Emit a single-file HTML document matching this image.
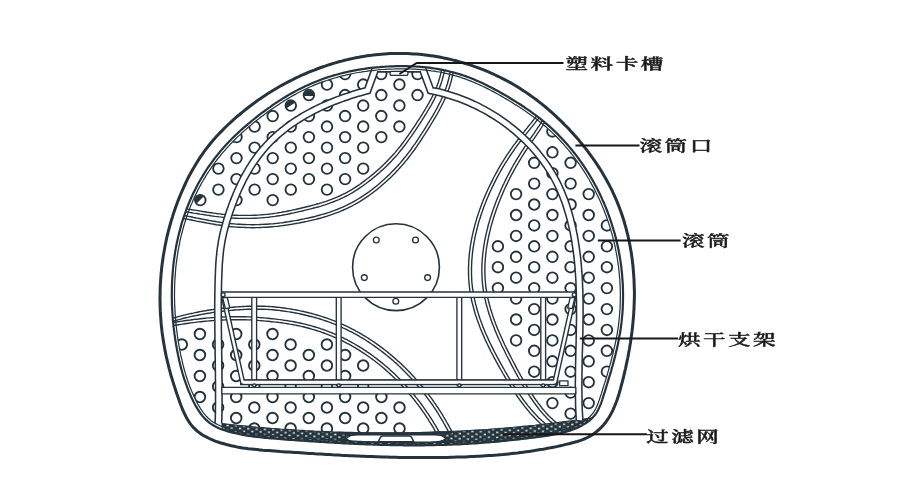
<!DOCTYPE html>
<html lang="zh"><head><meta charset="utf-8"><title>烘干支架示意图</title>
<style>html,body{margin:0;padding:0;background:#fff;}body{width:900px;height:500px;overflow:hidden;}</style></head>
<body>
<svg width="900" height="500" viewBox="0 0 900 500" style="display:block">
<rect width="900" height="500" fill="#fff"/>
<defs>
<clipPath id="cring"><path d="M396.1 66.2 L398.8 66.2 L401.6 66.1 L404.3 66.1 L407.1 66.2 L409.8 66.3 L412.6 66.4 L415.3 66.5 L418.1 66.7 L420.8 66.9 L423.5 67.1 L426.3 67.4 L429.0 67.7 L431.7 68.1 L434.4 68.5 L437.1 68.9 L439.8 69.4 L442.4 69.9 L445.1 70.4 L447.8 71.0 L450.4 71.7 L453.0 72.3 L455.7 73.1 L458.3 73.8 L460.9 74.6 L463.5 75.5 L466.0 76.4 L468.6 77.3 L471.1 78.3 L473.7 79.3 L476.2 80.4 L478.7 81.5 L481.2 82.6 L483.7 83.8 L486.2 85.0 L488.6 86.2 L491.1 87.4 L493.5 88.7 L495.9 90.0 L498.4 91.3 L500.8 92.7 L503.1 94.0 L505.5 95.4 L507.9 96.8 L510.2 98.2 L512.6 99.7 L514.9 101.1 L517.2 102.6 L519.5 104.0 L521.8 105.5 L524.1 107.0 L526.3 108.6 L528.6 110.1 L530.8 111.7 L533.0 113.3 L535.2 114.9 L537.4 116.5 L539.6 118.2 L541.7 119.9 L543.8 121.6 L545.9 123.3 L548.0 125.1 L550.0 126.9 L552.0 128.7 L554.0 130.6 L556.0 132.5 L558.0 134.4 L559.9 136.4 L561.8 138.4 L563.7 140.4 L565.5 142.4 L567.3 144.5 L569.1 146.6 L570.9 148.7 L572.6 150.8 L574.3 153.0 L576.0 155.2 L577.7 157.4 L579.3 159.6 L580.9 161.8 L582.5 164.1 L584.0 166.4 L585.5 168.6 L587.0 171.0 L588.5 173.3 L589.9 175.6 L591.3 178.0 L592.7 180.4 L594.0 182.7 L595.3 185.2 L596.6 187.6 L597.8 190.0 L599.1 192.5 L600.3 194.9 L601.4 197.4 L602.5 199.9 L603.7 202.4 L604.7 204.9 L605.8 207.4 L606.8 210.0 L607.8 212.5 L608.7 215.1 L609.6 217.7 L610.5 220.3 L611.4 222.9 L612.2 225.5 L613.0 228.1 L613.8 230.7 L614.6 233.3 L615.3 236.0 L616.0 238.6 L616.6 241.3 L617.2 243.9 L617.8 246.6 L618.4 249.3 L618.9 252.0 L619.4 254.7 L619.9 257.4 L620.3 260.1 L620.7 262.8 L621.1 265.5 L621.4 268.2 L621.7 270.9 L622.0 273.6 L622.2 276.3 L622.4 279.1 L622.6 281.8 L622.8 284.5 L622.9 287.2 L623.0 290.0 L623.0 292.7 L623.1 295.4 L623.0 298.2 L623.0 300.9 L622.9 303.6 L622.8 306.4 L622.7 309.1 L622.5 311.8 L622.3 314.6 L622.0 317.3 L621.8 320.0 L621.5 322.7 L621.1 325.4 L620.8 328.1 L620.4 330.8 L619.9 333.6 L619.4 336.2 L618.9 338.9 L618.4 341.6 L617.9 344.3 L617.3 347.0 L616.7 349.7 L616.0 352.4 L615.4 355.0 L614.7 357.7 L614.0 360.4 L613.3 363.0 L612.6 365.7 L611.8 368.3 L611.1 371.0 L610.3 373.6 L609.5 376.3 L608.7 378.9 L607.9 381.6 L607.1 384.2 L606.3 386.8 L605.5 389.5 L604.7 392.1 L603.8 394.7 L603.0 397.4 L602.2 400.0 L601.3 402.6 L600.3 405.1 L599.2 407.6 L598.1 410.0 L596.8 412.3 L595.3 414.5 L593.6 416.6 L591.8 418.5 L589.7 420.3 L587.5 422.0 L585.2 423.5 L582.9 424.9 L580.5 426.2 L578.0 427.4 L575.6 428.5 L573.0 429.5 L570.5 430.4 L567.9 431.3 L565.3 432.0 L562.6 432.7 L559.9 433.4 L557.2 433.9 L554.5 434.4 L551.8 434.9 L549.1 435.4 L546.3 435.8 L543.6 436.2 L540.8 436.6 L538.1 436.9 L535.4 437.3 L532.6 437.7 L529.9 438.0 L527.1 438.3 L524.4 438.7 L521.7 439.0 L518.9 439.3 L516.2 439.6 L513.5 439.9 L510.7 440.2 L508.0 440.5 L505.3 440.8 L502.6 441.0 L499.8 441.3 L497.1 441.6 L494.4 441.8 L491.7 442.0 L488.9 442.3 L486.2 442.5 L483.5 442.7 L480.8 442.9 L478.1 443.1 L475.3 443.3 L472.6 443.5 L469.9 443.7 L467.2 443.8 L464.5 444.0 L461.7 444.1 L459.0 444.3 L456.3 444.4 L453.6 444.5 L450.9 444.6 L448.1 444.7 L445.4 444.8 L442.7 444.9 L439.9 445.0 L437.2 445.0 L434.5 445.1 L431.8 445.2 L429.0 445.2 L426.3 445.2 L423.6 445.3 L420.8 445.3 L418.1 445.3 L415.4 445.3 L412.6 445.3 L409.9 445.3 L407.2 445.3 L404.4 445.3 L401.7 445.2 L398.9 445.2 L396.2 445.2 L393.5 445.1 L390.7 445.1 L388.0 445.0 L385.2 444.9 L382.5 444.9 L379.8 444.8 L377.0 444.7 L374.3 444.6 L371.5 444.5 L368.8 444.4 L366.1 444.3 L363.3 444.2 L360.6 444.1 L357.8 444.0 L355.1 443.8 L352.4 443.7 L349.6 443.6 L346.9 443.4 L344.1 443.3 L341.4 443.2 L338.7 443.0 L335.9 442.8 L333.2 442.7 L330.4 442.5 L327.7 442.4 L325.0 442.2 L322.2 442.0 L319.5 441.9 L316.8 441.7 L314.0 441.5 L311.3 441.3 L308.5 441.1 L305.8 440.9 L303.1 440.7 L300.3 440.6 L297.6 440.4 L294.9 440.2 L292.1 440.0 L289.4 439.8 L286.7 439.6 L284.0 439.3 L281.2 439.1 L278.5 438.9 L275.8 438.7 L273.0 438.5 L270.3 438.3 L267.6 438.0 L264.9 437.8 L262.2 437.5 L259.4 437.2 L256.7 436.9 L254.0 436.6 L251.3 436.2 L248.6 435.8 L245.9 435.4 L243.2 434.9 L240.5 434.4 L237.9 433.8 L235.2 433.2 L232.5 432.6 L229.8 431.9 L227.2 431.1 L224.5 430.3 L221.9 429.4 L219.4 428.4 L216.9 427.2 L214.5 426.0 L212.2 424.6 L209.9 423.1 L207.8 421.4 L205.9 419.6 L204.0 417.7 L202.2 415.6 L200.5 413.5 L199.0 411.2 L197.5 408.9 L196.0 406.4 L194.7 404.0 L193.4 401.5 L192.2 399.0 L191.0 396.4 L189.9 393.9 L188.8 391.4 L187.8 388.8 L186.8 386.2 L185.9 383.7 L185.0 381.1 L184.1 378.5 L183.3 375.9 L182.5 373.3 L181.8 370.7 L181.1 368.1 L180.4 365.5 L179.8 362.8 L179.1 360.2 L178.6 357.6 L178.0 354.9 L177.5 352.2 L177.0 349.6 L176.5 346.9 L176.0 344.2 L175.6 341.5 L175.2 338.8 L174.8 336.1 L174.4 333.4 L174.1 330.7 L173.7 327.9 L173.4 325.2 L173.2 322.5 L172.9 319.7 L172.7 317.0 L172.5 314.3 L172.3 311.5 L172.2 308.8 L172.0 306.0 L171.9 303.3 L171.9 300.5 L171.8 297.7 L171.8 295.0 L171.8 292.2 L171.9 289.5 L171.9 286.7 L172.0 284.0 L172.1 281.2 L172.3 278.4 L172.5 275.7 L172.7 273.0 L172.9 270.2 L173.2 267.5 L173.4 264.7 L173.8 262.0 L174.1 259.3 L174.5 256.6 L174.9 253.8 L175.3 251.1 L175.8 248.4 L176.3 245.7 L176.8 243.0 L177.4 240.4 L178.0 237.7 L178.6 235.0 L179.3 232.4 L180.0 229.7 L180.7 227.1 L181.4 224.4 L182.2 221.8 L183.0 219.2 L183.9 216.6 L184.8 214.0 L185.7 211.5 L186.6 208.9 L187.6 206.4 L188.6 203.8 L189.7 201.3 L190.8 198.8 L191.9 196.3 L193.0 193.8 L194.2 191.4 L195.5 188.9 L196.7 186.5 L198.0 184.1 L199.3 181.7 L200.7 179.3 L202.1 177.0 L203.5 174.6 L204.9 172.3 L206.4 170.0 L207.9 167.7 L209.5 165.5 L211.0 163.3 L212.6 161.1 L214.3 158.9 L216.0 156.7 L217.7 154.6 L219.4 152.4 L221.1 150.4 L222.9 148.3 L224.8 146.3 L226.6 144.2 L228.5 142.2 L230.4 140.3 L232.3 138.3 L234.3 136.4 L236.3 134.5 L238.3 132.6 L240.3 130.7 L242.3 128.9 L244.4 127.1 L246.5 125.3 L248.6 123.5 L250.7 121.8 L252.8 120.0 L255.0 118.3 L257.1 116.6 L259.3 114.9 L261.5 113.2 L263.7 111.6 L265.9 110.0 L268.1 108.3 L270.4 106.8 L272.6 105.2 L274.9 103.6 L277.2 102.1 L279.5 100.6 L281.8 99.2 L284.1 97.7 L286.5 96.3 L288.8 94.9 L291.2 93.5 L293.6 92.2 L296.0 90.9 L298.4 89.6 L300.8 88.4 L303.2 87.2 L305.7 86.0 L308.2 84.9 L310.7 83.8 L313.2 82.7 L315.7 81.7 L318.2 80.7 L320.8 79.7 L323.3 78.8 L325.9 77.9 L328.5 77.0 L331.1 76.2 L333.7 75.4 L336.4 74.7 L339.0 74.0 L341.7 73.3 L344.3 72.6 L347.0 72.0 L349.7 71.4 L352.3 70.9 L355.0 70.4 L357.7 69.9 L360.5 69.4 L363.2 69.0 L365.9 68.6 L368.6 68.2 L371.4 67.9 L374.1 67.6 L376.8 67.3 L379.6 67.1 L382.3 66.8 L385.1 66.7 L387.8 66.5 L390.6 66.4 L393.3 66.3 Z"/></clipPath>
<clipPath id="cringin"><path d="M396.1 68.9 L398.9 68.9 L401.6 68.8 L404.3 68.8 L407.0 68.9 L409.8 69.0 L412.5 69.1 L415.2 69.2 L417.9 69.4 L420.6 69.6 L423.3 69.8 L426.0 70.1 L428.6 70.4 L431.3 70.8 L434.0 71.1 L436.6 71.6 L439.3 72.0 L441.9 72.5 L444.5 73.1 L447.2 73.7 L449.8 74.3 L452.3 74.9 L454.9 75.7 L457.5 76.4 L460.1 77.2 L462.6 78.1 L465.1 78.9 L467.6 79.9 L470.2 80.8 L472.7 81.8 L475.1 82.9 L477.6 84.0 L480.1 85.1 L482.5 86.2 L485.0 87.4 L487.4 88.6 L489.8 89.8 L492.3 91.1 L494.7 92.4 L497.0 93.7 L499.4 95.0 L501.8 96.4 L504.1 97.7 L506.5 99.1 L508.8 100.5 L511.2 102.0 L513.5 103.4 L515.8 104.9 L518.1 106.3 L520.3 107.8 L522.6 109.3 L524.8 110.8 L527.0 112.3 L529.3 113.9 L531.4 115.5 L533.6 117.1 L535.8 118.7 L537.9 120.3 L540.0 122.0 L542.1 123.7 L544.2 125.4 L546.2 127.1 L548.2 128.9 L550.2 130.7 L552.2 132.6 L554.1 134.4 L556.1 136.3 L558.0 138.3 L559.8 140.2 L561.7 142.2 L563.5 144.2 L565.3 146.3 L567.1 148.3 L568.8 150.4 L570.5 152.5 L572.2 154.7 L573.9 156.8 L575.5 159.0 L577.1 161.2 L578.7 163.4 L580.3 165.6 L581.8 167.9 L583.3 170.1 L584.7 172.4 L586.2 174.7 L587.6 177.0 L589.0 179.3 L590.3 181.7 L591.6 184.1 L592.9 186.4 L594.2 188.8 L595.4 191.2 L596.6 193.7 L597.8 196.1 L599.0 198.5 L600.1 201.0 L601.2 203.5 L602.2 206.0 L603.3 208.5 L604.3 211.0 L605.2 213.5 L606.2 216.0 L607.1 218.6 L608.0 221.1 L608.8 223.7 L609.7 226.3 L610.5 228.9 L611.2 231.5 L612.0 234.1 L612.7 236.7 L613.3 239.3 L614.0 241.9 L614.6 244.5 L615.2 247.2 L615.7 249.8 L616.2 252.5 L616.7 255.1 L617.2 257.8 L617.6 260.5 L618.0 263.1 L618.4 265.8 L618.7 268.5 L619.0 271.2 L619.3 273.9 L619.5 276.6 L619.8 279.3 L619.9 282.0 L620.1 284.6 L620.2 287.3 L620.3 290.0 L620.3 292.7 L620.4 295.4 L620.3 298.1 L620.3 300.8 L620.2 303.5 L620.1 306.2 L620.0 308.9 L619.8 311.6 L619.6 314.3 L619.4 317.0 L619.1 319.7 L618.8 322.4 L618.5 325.1 L618.1 327.8 L617.7 330.4 L617.3 333.1 L616.8 335.8 L616.3 338.4 L615.8 341.1 L615.2 343.8 L614.6 346.4 L614.0 349.1 L613.4 351.7 L612.8 354.4 L612.1 357.0 L611.4 359.7 L610.7 362.3 L610.0 365.0 L609.3 367.6 L608.5 370.2 L607.7 372.9 L607.0 375.5 L606.2 378.1 L605.4 380.8 L604.6 383.4 L603.7 386.0 L602.9 388.7 L602.1 391.3 L601.3 393.9 L600.4 396.5 L599.6 399.1 L598.7 401.6 L597.8 404.1 L596.8 406.5 L595.7 408.7 L594.5 410.9 L593.1 412.9 L591.6 414.8 L589.9 416.5 L588.0 418.2 L585.9 419.8 L583.8 421.2 L581.5 422.6 L579.2 423.8 L576.9 425.0 L574.5 426.0 L572.1 427.0 L569.6 427.9 L567.1 428.7 L564.5 429.4 L562.0 430.1 L559.3 430.7 L556.7 431.3 L554.0 431.8 L551.4 432.3 L548.7 432.7 L545.9 433.1 L543.2 433.5 L540.5 433.9 L537.7 434.3 L535.0 434.6 L532.3 435.0 L529.5 435.3 L526.8 435.7 L524.1 436.0 L521.3 436.3 L518.6 436.6 L515.9 436.9 L513.2 437.2 L510.5 437.5 L507.7 437.8 L505.0 438.1 L502.3 438.4 L499.6 438.6 L496.9 438.9 L494.2 439.1 L491.4 439.4 L488.7 439.6 L486.0 439.8 L483.3 440.0 L480.6 440.2 L477.9 440.4 L475.2 440.6 L472.5 440.8 L469.7 441.0 L467.0 441.1 L464.3 441.3 L461.6 441.4 L458.9 441.6 L456.2 441.7 L453.5 441.8 L450.7 441.9 L448.0 442.0 L445.3 442.1 L442.6 442.2 L439.9 442.3 L437.2 442.3 L434.4 442.4 L431.7 442.5 L429.0 442.5 L426.3 442.5 L423.5 442.6 L420.8 442.6 L418.1 442.6 L415.4 442.6 L412.6 442.6 L409.9 442.6 L407.2 442.6 L404.4 442.6 L401.7 442.5 L399.0 442.5 L396.2 442.5 L393.5 442.4 L390.8 442.4 L388.1 442.3 L385.3 442.2 L382.6 442.2 L379.8 442.1 L377.1 442.0 L374.4 441.9 L371.6 441.8 L368.9 441.7 L366.2 441.6 L363.4 441.5 L360.7 441.4 L358.0 441.3 L355.2 441.1 L352.5 441.0 L349.8 440.9 L347.0 440.7 L344.3 440.6 L341.5 440.5 L338.8 440.3 L336.1 440.2 L333.3 440.0 L330.6 439.8 L327.9 439.7 L325.1 439.5 L322.4 439.3 L319.7 439.2 L316.9 439.0 L314.2 438.8 L311.5 438.6 L308.7 438.4 L306.0 438.2 L303.3 438.1 L300.5 437.9 L297.8 437.7 L295.1 437.5 L292.3 437.3 L289.6 437.1 L286.9 436.9 L284.2 436.7 L281.4 436.5 L278.7 436.2 L276.0 436.0 L273.3 435.8 L270.6 435.6 L267.8 435.4 L265.1 435.1 L262.4 434.8 L259.7 434.6 L257.1 434.2 L254.4 433.9 L251.7 433.5 L249.0 433.2 L246.4 432.7 L243.7 432.3 L241.1 431.8 L238.4 431.2 L235.8 430.6 L233.2 430.0 L230.6 429.3 L228.0 428.5 L225.4 427.7 L222.9 426.8 L220.4 425.9 L218.1 424.8 L215.8 423.6 L213.6 422.4 L211.5 420.9 L209.6 419.4 L207.8 417.7 L206.0 415.9 L204.3 413.9 L202.7 411.9 L201.2 409.7 L199.8 407.4 L198.4 405.1 L197.1 402.7 L195.8 400.3 L194.6 397.8 L193.5 395.3 L192.4 392.8 L191.3 390.3 L190.3 387.8 L189.3 385.3 L188.4 382.8 L187.5 380.2 L186.7 377.7 L185.9 375.1 L185.1 372.6 L184.4 370.0 L183.7 367.4 L183.0 364.8 L182.4 362.2 L181.8 359.6 L181.2 357.0 L180.6 354.4 L180.1 351.7 L179.6 349.1 L179.1 346.4 L178.7 343.8 L178.2 341.1 L177.8 338.4 L177.4 335.7 L177.1 333.0 L176.7 330.3 L176.4 327.6 L176.1 324.9 L175.8 322.2 L175.6 319.5 L175.4 316.8 L175.2 314.1 L175.0 311.4 L174.9 308.6 L174.7 305.9 L174.6 303.2 L174.6 300.4 L174.5 297.7 L174.5 295.0 L174.5 292.2 L174.6 289.5 L174.6 286.8 L174.7 284.1 L174.8 281.3 L175.0 278.6 L175.2 275.9 L175.4 273.2 L175.6 270.5 L175.8 267.7 L176.1 265.0 L176.4 262.3 L176.8 259.6 L177.2 256.9 L177.6 254.3 L178.0 251.6 L178.5 248.9 L179.0 246.2 L179.5 243.6 L180.0 240.9 L180.6 238.3 L181.2 235.6 L181.9 233.0 L182.6 230.4 L183.3 227.8 L184.0 225.2 L184.8 222.6 L185.6 220.0 L186.4 217.5 L187.3 214.9 L188.2 212.4 L189.2 209.9 L190.1 207.3 L191.1 204.8 L192.2 202.4 L193.2 199.9 L194.3 197.4 L195.5 195.0 L196.7 192.6 L197.9 190.1 L199.1 187.8 L200.4 185.4 L201.7 183.0 L203.0 180.7 L204.4 178.4 L205.8 176.1 L207.2 173.8 L208.7 171.5 L210.2 169.3 L211.7 167.0 L213.2 164.8 L214.8 162.7 L216.4 160.5 L218.1 158.4 L219.8 156.3 L221.5 154.2 L223.2 152.1 L225.0 150.1 L226.8 148.1 L228.6 146.1 L230.4 144.1 L232.3 142.2 L234.2 140.2 L236.2 138.3 L238.1 136.4 L240.1 134.6 L242.1 132.7 L244.1 130.9 L246.2 129.1 L248.2 127.3 L250.3 125.6 L252.4 123.8 L254.5 122.1 L256.6 120.4 L258.8 118.7 L260.9 117.0 L263.1 115.4 L265.3 113.8 L267.5 112.1 L269.7 110.5 L271.9 109.0 L274.2 107.4 L276.4 105.9 L278.7 104.4 L280.9 102.9 L283.2 101.4 L285.5 100.0 L287.8 98.6 L290.2 97.2 L292.5 95.9 L294.9 94.6 L297.2 93.3 L299.6 92.0 L302.0 90.8 L304.4 89.6 L306.8 88.5 L309.3 87.3 L311.7 86.2 L314.2 85.2 L316.7 84.2 L319.2 83.2 L321.7 82.2 L324.2 81.3 L326.8 80.5 L329.3 79.6 L331.9 78.8 L334.5 78.0 L337.1 77.3 L339.7 76.6 L342.3 75.9 L344.9 75.3 L347.6 74.6 L350.2 74.1 L352.9 73.5 L355.5 73.0 L358.2 72.5 L360.9 72.1 L363.6 71.6 L366.3 71.3 L369.0 70.9 L371.7 70.6 L374.4 70.3 L377.1 70.0 L379.8 69.7 L382.5 69.5 L385.2 69.3 L388.0 69.2 L390.7 69.1 L393.4 69.0 Z"/></clipPath>
<clipPath id="ctl" clip-path="url(#cringin)"><path d="M174.7 207.2 L176.8 207.5 L179.0 207.8 L181.2 208.1 L183.4 208.4 L185.5 208.7 L187.7 209.1 L189.9 209.4 L192.0 209.8 L194.2 210.1 L196.3 210.4 L198.5 210.8 L200.6 211.1 L202.8 211.5 L204.9 211.8 L207.1 212.2 L209.2 212.5 L211.4 212.8 L213.5 213.1 L215.6 213.4 L217.7 213.7 L219.9 213.9 L222.0 214.2 L224.1 214.4 L226.2 214.6 L228.3 214.8 L230.4 214.9 L232.5 215.1 L234.6 215.2 L236.8 215.3 L238.9 215.4 L241.0 215.4 L243.1 215.4 L245.2 215.4 L247.3 215.4 L249.4 215.4 L251.5 215.4 L253.6 215.3 L255.7 215.2 L257.8 215.1 L259.9 214.9 L262.0 214.8 L264.1 214.6 L266.2 214.4 L268.3 214.2 L270.4 213.9 L272.5 213.7 L274.6 213.4 L276.6 213.1 L278.7 212.7 L280.8 212.4 L282.9 212.0 L285.0 211.6 L287.1 211.2 L289.2 210.8 L291.2 210.4 L293.3 209.9 L295.4 209.5 L297.5 209.0 L299.6 208.5 L301.7 208.0 L303.8 207.5 L305.9 207.0 L307.9 206.5 L310.0 206.0 L312.1 205.4 L314.1 204.9 L316.1 204.3 L318.2 203.8 L320.2 203.2 L322.2 202.6 L324.2 201.9 L326.1 201.3 L328.1 200.6 L330.0 199.9 L332.0 199.2 L333.9 198.4 L335.8 197.6 L337.7 196.8 L339.5 196.0 L341.4 195.1 L343.2 194.2 L345.1 193.3 L346.9 192.3 L348.7 191.3 L350.4 190.3 L352.2 189.3 L354.0 188.2 L355.7 187.1 L357.4 185.9 L359.2 184.8 L360.9 183.6 L362.5 182.4 L364.2 181.1 L365.9 179.8 L367.6 178.5 L369.2 177.2 L370.9 175.9 L372.5 174.6 L374.1 173.2 L375.7 171.9 L377.3 170.5 L378.9 169.1 L380.4 167.7 L381.9 166.2 L383.5 164.8 L385.0 163.3 L386.5 161.8 L387.9 160.3 L389.4 158.8 L390.8 157.3 L392.2 155.8 L393.6 154.2 L395.0 152.6 L396.3 151.0 L397.7 149.4 L399.0 147.8 L400.3 146.2 L401.6 144.5 L402.9 142.8 L404.1 141.1 L405.4 139.4 L406.6 137.7 L407.8 136.0 L409.1 134.2 L410.3 132.5 L411.5 130.7 L412.7 128.9 L413.9 127.1 L415.1 125.3 L416.3 123.5 L417.4 121.7 L418.6 119.9 L419.8 118.1 L420.9 116.3 L422.1 114.5 L423.2 112.6 L424.3 110.8 L425.4 109.0 L426.5 107.2 L427.6 105.3 L428.6 103.5 L429.6 101.7 L430.6 99.8 L431.6 98.0 L432.5 96.1 L433.4 94.3 L434.3 92.4 L435.1 90.5 L435.9 88.6 L436.7 86.7 L437.4 84.8 L438.1 82.9 L438.7 81.0 L439.3 79.0 L439.9 77.1 L440.4 75.1 L440.9 73.1 L441.3 71.1 L441.7 69.0 L460.0 40.0 L100.0 40.0 L100.0 212.0 Z"/></clipPath>
<clipPath id="cr" clip-path="url(#cringin)"><path d="M547.1 117.6 L546.2 119.7 L545.1 121.7 L543.9 123.6 L542.7 125.6 L541.5 127.5 L540.3 129.4 L539.0 131.3 L537.7 133.2 L536.5 135.1 L535.2 136.9 L533.9 138.8 L532.6 140.6 L531.4 142.4 L530.1 144.3 L528.9 146.1 L527.7 147.9 L526.5 149.7 L525.3 151.5 L524.1 153.3 L522.9 155.2 L521.8 157.0 L520.7 158.8 L519.6 160.6 L518.5 162.5 L517.4 164.3 L516.3 166.2 L515.3 168.0 L514.2 169.9 L513.2 171.8 L512.2 173.6 L511.2 175.5 L510.2 177.4 L509.3 179.3 L508.3 181.2 L507.4 183.2 L506.4 185.1 L505.5 187.0 L504.6 189.0 L503.8 190.9 L502.9 192.9 L502.1 194.9 L501.2 196.9 L500.4 198.9 L499.6 200.9 L498.8 202.9 L498.0 205.0 L497.3 207.0 L496.5 209.0 L495.8 211.1 L495.1 213.2 L494.4 215.2 L493.7 217.3 L493.1 219.4 L492.5 221.5 L491.9 223.6 L491.3 225.6 L490.7 227.7 L490.2 229.8 L489.7 231.9 L489.2 234.1 L488.7 236.2 L488.3 238.3 L487.9 240.4 L487.5 242.5 L487.1 244.6 L486.8 246.7 L486.4 248.8 L486.2 250.9 L485.9 253.0 L485.7 255.1 L485.5 257.3 L485.3 259.4 L485.1 261.5 L485.0 263.5 L484.9 265.6 L484.9 267.7 L484.8 269.8 L484.9 271.9 L484.9 274.0 L485.0 276.0 L485.1 278.1 L485.2 280.1 L485.4 282.2 L485.6 284.2 L485.8 286.3 L486.1 288.3 L486.4 290.3 L486.7 292.4 L487.1 294.4 L487.5 296.4 L487.9 298.5 L488.4 300.5 L488.9 302.5 L489.4 304.5 L490.0 306.6 L490.5 308.6 L491.1 310.6 L491.8 312.6 L492.4 314.6 L493.1 316.7 L493.8 318.7 L494.5 320.7 L495.3 322.7 L496.0 324.7 L496.8 326.7 L497.6 328.7 L498.5 330.7 L499.3 332.7 L500.2 334.7 L501.1 336.7 L502.0 338.7 L502.9 340.7 L503.8 342.7 L504.7 344.7 L505.7 346.7 L506.6 348.6 L507.6 350.6 L508.6 352.6 L509.6 354.6 L510.6 356.6 L511.6 358.5 L512.6 360.5 L513.7 362.5 L514.7 364.4 L515.7 366.4 L516.7 368.3 L517.8 370.3 L518.8 372.2 L519.9 374.1 L520.9 376.0 L522.0 377.9 L523.1 379.8 L524.2 381.6 L525.3 383.5 L526.4 385.4 L527.5 387.2 L528.6 389.0 L529.8 390.8 L530.9 392.6 L532.1 394.4 L533.3 396.2 L534.5 398.0 L535.7 399.7 L537.0 401.4 L538.2 403.1 L539.5 404.8 L540.8 406.5 L542.1 408.2 L543.4 409.8 L544.8 411.4 L546.2 413.0 L547.6 414.5 L549.0 416.0 L550.5 417.4 L552.0 418.8 L553.5 420.2 L555.1 421.6 L556.7 422.9 L558.3 424.3 L560.0 480.0 L700.0 480.0 L700.0 60.0 L545.0 60.0 Z"/></clipPath>
<clipPath id="cbl" clip-path="url(#cringin)"><path d="M172.9 325.6 L174.9 325.3 L176.9 325.0 L178.8 324.7 L180.8 324.4 L182.8 324.1 L184.8 323.8 L186.8 323.5 L188.8 323.2 L190.8 322.9 L192.8 322.6 L194.8 322.4 L196.8 322.1 L198.9 321.9 L200.9 321.7 L202.9 321.5 L204.9 321.3 L206.9 321.1 L209.0 320.9 L211.0 320.7 L213.0 320.6 L215.1 320.4 L217.1 320.3 L219.1 320.2 L221.2 320.1 L223.2 320.0 L225.2 319.9 L227.3 319.8 L229.3 319.8 L231.3 319.7 L233.4 319.7 L235.4 319.7 L237.4 319.7 L239.5 319.7 L241.5 319.7 L243.5 319.7 L245.6 319.8 L247.6 319.9 L249.6 319.9 L251.6 320.0 L253.6 320.1 L255.7 320.3 L257.7 320.4 L259.7 320.6 L261.7 320.7 L263.7 320.9 L265.7 321.1 L267.7 321.3 L269.7 321.5 L271.7 321.7 L273.7 321.9 L275.7 322.1 L277.7 322.3 L279.7 322.6 L281.6 322.8 L283.6 323.1 L285.6 323.4 L287.6 323.7 L289.5 324.1 L291.5 324.4 L293.4 324.8 L295.4 325.1 L297.3 325.5 L299.3 325.9 L301.2 326.4 L303.1 326.8 L305.0 327.3 L306.9 327.8 L308.8 328.3 L310.7 328.8 L312.6 329.4 L314.5 329.9 L316.4 330.5 L318.3 331.1 L320.1 331.7 L322.0 332.3 L323.8 333.0 L325.7 333.7 L327.5 334.4 L329.3 335.1 L331.2 335.8 L333.0 336.6 L334.8 337.3 L336.6 338.1 L338.3 338.9 L340.1 339.8 L341.9 340.6 L343.7 341.5 L345.4 342.4 L347.1 343.3 L348.9 344.2 L350.6 345.2 L352.3 346.2 L354.0 347.1 L355.7 348.1 L357.4 349.2 L359.1 350.2 L360.8 351.3 L362.4 352.3 L364.1 353.4 L365.7 354.5 L367.4 355.7 L369.0 356.8 L370.6 358.0 L372.2 359.1 L373.8 360.3 L375.4 361.5 L377.0 362.7 L378.6 364.0 L380.1 365.2 L381.7 366.5 L383.2 367.8 L384.7 369.1 L386.2 370.4 L387.7 371.7 L389.2 373.1 L390.7 374.4 L392.1 375.8 L393.6 377.2 L395.0 378.6 L396.5 380.0 L397.9 381.4 L399.3 382.8 L400.7 384.3 L402.0 385.7 L403.4 387.2 L404.8 388.7 L406.1 390.2 L407.4 391.7 L408.7 393.2 L410.0 394.8 L411.3 396.3 L412.6 397.9 L413.9 399.4 L415.1 401.0 L416.3 402.6 L417.6 404.2 L418.8 405.8 L420.0 407.4 L421.1 409.0 L422.3 410.6 L423.4 412.3 L424.6 413.9 L425.7 415.6 L426.8 417.3 L427.9 418.9 L428.9 420.6 L430.0 422.3 L431.0 424.0 L432.1 425.7 L433.1 427.4 L434.1 429.1 L435.0 430.9 L436.0 432.6 L436.9 434.3 L437.9 436.1 L438.8 437.8 L439.7 439.6 L440.6 441.3 L441.4 443.1 L448.0 480.0 L100.0 480.0 L100.0 323.0 Z"/></clipPath>
<pattern id="mesh" width="8.3" height="5.2" patternUnits="userSpaceOnUse" patternTransform="rotate(2)"><rect width="8.3" height="5.2" fill="#24333c"/><rect x="0.5" y="0.5" width="2.3" height="1.6" fill="#d3d9dc"/><rect x="4.65" y="3.1" width="2.3" height="1.6" fill="#d3d9dc"/></pattern>
</defs>
<path d="M396.0 53.5 L398.9 53.4 L401.8 53.4 L404.7 53.5 L407.6 53.6 L410.4 53.7 L413.3 53.9 L416.2 54.1 L419.1 54.3 L422.0 54.6 L424.9 54.9 L427.7 55.3 L430.6 55.7 L433.5 56.1 L436.3 56.6 L439.2 57.1 L442.0 57.6 L444.9 58.2 L447.7 58.8 L450.5 59.4 L453.3 60.1 L456.1 60.8 L458.9 61.6 L461.7 62.4 L464.5 63.2 L467.3 64.1 L470.1 64.9 L472.8 65.9 L475.5 66.8 L478.3 67.8 L481.0 68.9 L483.7 69.9 L486.4 71.0 L489.0 72.2 L491.7 73.3 L494.3 74.5 L496.9 75.8 L499.5 77.0 L502.1 78.3 L504.7 79.6 L507.3 81.0 L509.8 82.4 L512.3 83.8 L514.8 85.3 L517.3 86.8 L519.8 88.3 L522.2 89.9 L524.6 91.4 L527.0 93.1 L529.4 94.7 L531.7 96.4 L534.1 98.1 L536.4 99.8 L538.7 101.6 L541.0 103.4 L543.2 105.2 L545.5 107.0 L547.7 108.9 L549.9 110.8 L552.0 112.7 L554.2 114.6 L556.3 116.6 L558.4 118.6 L560.5 120.6 L562.6 122.6 L564.6 124.7 L566.7 126.8 L568.7 128.8 L570.6 131.0 L572.6 133.1 L574.5 135.3 L576.5 137.4 L578.4 139.6 L580.2 141.9 L582.1 144.1 L583.9 146.4 L585.7 148.6 L587.5 150.9 L589.2 153.3 L590.9 155.6 L592.6 158.0 L594.3 160.3 L595.9 162.7 L597.5 165.1 L599.1 167.6 L600.7 170.0 L602.2 172.5 L603.6 174.9 L605.1 177.4 L606.5 180.0 L607.9 182.5 L609.3 185.1 L610.6 187.6 L611.9 190.2 L613.1 192.8 L614.3 195.4 L615.5 198.1 L616.6 200.7 L617.7 203.4 L618.8 206.1 L619.8 208.8 L620.8 211.5 L621.8 214.2 L622.7 217.0 L623.6 219.7 L624.4 222.5 L625.2 225.3 L626.0 228.1 L626.7 230.9 L627.4 233.7 L628.1 236.5 L628.7 239.4 L629.3 242.2 L629.9 245.0 L630.4 247.9 L630.9 250.8 L631.4 253.6 L631.8 256.5 L632.2 259.4 L632.5 262.3 L632.9 265.2 L633.1 268.1 L633.4 271.0 L633.6 273.8 L633.8 276.7 L634.0 279.6 L634.1 282.5 L634.2 285.4 L634.3 288.3 L634.4 291.2 L634.4 294.1 L634.4 297.0 L634.3 299.9 L634.2 302.8 L634.1 305.7 L634.0 308.6 L633.8 311.4 L633.7 314.3 L633.4 317.2 L633.2 320.1 L632.9 322.9 L632.7 325.8 L632.3 328.7 L632.0 331.5 L631.6 334.4 L631.2 337.2 L630.8 340.1 L630.4 343.0 L629.9 345.8 L629.5 348.7 L628.9 351.5 L628.4 354.4 L627.9 357.2 L627.3 360.0 L626.7 362.9 L626.1 365.7 L625.5 368.6 L624.8 371.4 L624.2 374.2 L623.5 377.1 L622.8 379.9 L622.1 382.7 L621.3 385.5 L620.6 388.4 L619.8 391.2 L619.0 394.0 L618.1 396.7 L617.2 399.5 L616.2 402.3 L615.1 405.0 L614.0 407.7 L612.8 410.3 L611.5 412.9 L610.1 415.5 L608.6 418.0 L607.0 420.4 L605.3 422.8 L603.5 425.0 L601.5 427.1 L599.5 429.1 L597.3 431.0 L595.1 432.8 L592.8 434.4 L590.4 435.9 L587.9 437.3 L585.3 438.5 L582.7 439.6 L580.0 440.6 L577.2 441.5 L574.4 442.3 L571.6 443.0 L568.8 443.8 L566.0 444.4 L563.2 445.1 L560.4 445.7 L557.5 446.4 L554.7 447.0 L551.9 447.5 L549.0 448.1 L546.2 448.6 L543.3 449.2 L540.5 449.6 L537.6 450.1 L534.7 450.6 L531.9 451.0 L529.0 451.4 L526.1 451.8 L523.3 452.2 L520.4 452.6 L517.5 453.0 L514.6 453.3 L511.7 453.6 L508.8 453.9 L505.9 454.2 L503.0 454.5 L500.1 454.7 L497.2 455.0 L494.3 455.2 L491.4 455.4 L488.5 455.6 L485.6 455.8 L482.7 456.0 L479.8 456.2 L476.9 456.3 L474.0 456.5 L471.1 456.6 L468.2 456.7 L465.3 456.9 L462.4 457.0 L459.5 457.1 L456.6 457.1 L453.7 457.2 L450.8 457.3 L447.9 457.4 L445.0 457.4 L442.1 457.5 L439.2 457.5 L436.3 457.5 L433.4 457.6 L430.5 457.6 L427.6 457.6 L424.7 457.6 L421.9 457.6 L419.0 457.6 L416.1 457.6 L413.2 457.6 L410.3 457.5 L407.4 457.5 L404.5 457.5 L401.6 457.4 L398.8 457.4 L395.9 457.3 L393.0 457.2 L390.1 457.2 L387.2 457.1 L384.3 457.0 L381.4 456.9 L378.6 456.8 L375.7 456.7 L372.8 456.6 L369.9 456.5 L367.0 456.4 L364.1 456.3 L361.3 456.2 L358.4 456.1 L355.5 456.0 L352.6 455.8 L349.7 455.7 L346.8 455.5 L344.0 455.4 L341.1 455.3 L338.2 455.1 L335.3 454.9 L332.4 454.8 L329.5 454.6 L326.6 454.5 L323.8 454.3 L320.9 454.1 L318.0 453.9 L315.1 453.8 L312.2 453.6 L309.3 453.4 L306.4 453.2 L303.5 453.0 L300.6 452.8 L297.7 452.6 L294.8 452.5 L291.9 452.3 L289.0 452.1 L286.1 451.9 L283.2 451.7 L280.3 451.5 L277.4 451.2 L274.5 451.0 L271.6 450.8 L268.7 450.6 L265.8 450.4 L262.9 450.2 L260.0 449.9 L257.1 449.6 L254.2 449.3 L251.3 449.0 L248.4 448.7 L245.5 448.3 L242.6 447.9 L239.8 447.4 L236.9 446.9 L234.1 446.3 L231.3 445.7 L228.4 445.0 L225.6 444.3 L222.9 443.5 L220.1 442.7 L217.3 441.8 L214.6 440.8 L211.9 439.7 L209.3 438.5 L206.7 437.2 L204.2 435.9 L201.8 434.4 L199.5 432.8 L197.2 431.1 L195.2 429.2 L193.2 427.3 L191.4 425.1 L189.7 422.9 L188.2 420.5 L186.7 418.1 L185.4 415.5 L184.1 412.9 L182.9 410.2 L181.8 407.5 L180.7 404.7 L179.7 401.9 L178.7 399.1 L177.7 396.3 L176.7 393.5 L175.8 390.7 L174.9 387.9 L174.0 385.1 L173.1 382.3 L172.3 379.6 L171.4 376.8 L170.6 374.0 L169.9 371.2 L169.1 368.3 L168.4 365.5 L167.7 362.7 L167.1 359.9 L166.4 357.1 L165.8 354.3 L165.2 351.4 L164.7 348.6 L164.2 345.8 L163.7 342.9 L163.2 340.1 L162.8 337.2 L162.4 334.4 L162.0 331.5 L161.7 328.6 L161.4 325.8 L161.1 322.9 L160.9 320.0 L160.7 317.1 L160.5 314.3 L160.3 311.4 L160.2 308.5 L160.1 305.6 L160.1 302.7 L160.0 299.8 L160.0 296.9 L160.1 294.0 L160.1 291.2 L160.2 288.3 L160.3 285.4 L160.5 282.5 L160.7 279.6 L160.9 276.7 L161.1 273.8 L161.4 271.0 L161.7 268.1 L162.0 265.2 L162.4 262.3 L162.8 259.5 L163.2 256.6 L163.7 253.8 L164.2 250.9 L164.7 248.1 L165.2 245.2 L165.8 242.4 L166.4 239.5 L167.0 236.7 L167.7 233.9 L168.4 231.1 L169.1 228.3 L169.9 225.5 L170.7 222.7 L171.5 219.9 L172.4 217.1 L173.2 214.3 L174.2 211.6 L175.1 208.8 L176.1 206.1 L177.1 203.3 L178.1 200.6 L179.2 197.9 L180.3 195.2 L181.4 192.5 L182.6 189.8 L183.8 187.1 L185.0 184.5 L186.2 181.9 L187.5 179.2 L188.8 176.6 L190.2 174.1 L191.6 171.5 L193.0 169.0 L194.5 166.5 L196.0 164.0 L197.5 161.5 L199.0 159.1 L200.6 156.7 L202.3 154.3 L203.9 151.9 L205.6 149.6 L207.4 147.3 L209.2 145.0 L211.0 142.8 L212.8 140.6 L214.7 138.4 L216.6 136.3 L218.6 134.2 L220.6 132.1 L222.6 130.1 L224.6 128.0 L226.7 126.0 L228.8 124.0 L230.9 122.1 L233.0 120.1 L235.2 118.2 L237.3 116.3 L239.6 114.5 L241.8 112.6 L244.0 110.8 L246.3 109.0 L248.6 107.2 L250.9 105.5 L253.2 103.7 L255.6 102.0 L257.9 100.3 L260.3 98.7 L262.7 97.0 L265.1 95.4 L267.6 93.8 L270.0 92.3 L272.5 90.8 L275.0 89.3 L277.5 87.8 L280.0 86.3 L282.6 84.9 L285.1 83.5 L287.7 82.1 L290.3 80.8 L292.9 79.5 L295.5 78.2 L298.1 77.0 L300.8 75.7 L303.4 74.5 L306.1 73.4 L308.8 72.2 L311.5 71.1 L314.2 70.1 L316.9 69.0 L319.6 68.0 L322.3 67.0 L325.1 66.1 L327.8 65.1 L330.6 64.3 L333.4 63.4 L336.2 62.6 L338.9 61.8 L341.7 61.1 L344.6 60.3 L347.4 59.6 L350.2 59.0 L353.0 58.4 L355.9 57.8 L358.7 57.3 L361.5 56.7 L364.4 56.3 L367.2 55.8 L370.1 55.4 L373.0 55.1 L375.8 54.7 L378.7 54.4 L381.6 54.2 L384.5 54.0 L387.3 53.8 L390.2 53.6 L393.1 53.5 Z" fill="none" stroke="#24333c" stroke-width="3.00" stroke-linejoin="round" stroke-linecap="round" />
<g fill="#fff" stroke="#24333c" stroke-width="1.85">
<g clip-path="url(#ctl)"><circle cx="182.2" cy="231.6" r="5.3"/><circle cx="200.3" cy="200.1" r="5.3"/><circle cx="200.3" cy="221.1" r="5.3"/><circle cx="218.4" cy="168.6" r="5.3"/><circle cx="218.4" cy="189.6" r="5.3"/><circle cx="218.4" cy="231.6" r="5.3"/><circle cx="236.5" cy="137.1" r="5.3"/><circle cx="236.5" cy="158.1" r="5.3"/><circle cx="236.5" cy="179.1" r="5.3"/><circle cx="236.5" cy="200.1" r="5.3"/><circle cx="254.6" cy="126.6" r="5.3"/><circle cx="254.6" cy="147.6" r="5.3"/><circle cx="254.6" cy="168.6" r="5.3"/><circle cx="254.6" cy="189.6" r="5.3"/><circle cx="254.6" cy="231.6" r="5.3"/><circle cx="272.7" cy="116.1" r="5.3"/><circle cx="272.7" cy="137.1" r="5.3"/><circle cx="272.7" cy="158.1" r="5.3"/><circle cx="272.7" cy="179.1" r="5.3"/><circle cx="272.7" cy="200.1" r="5.3"/><circle cx="290.8" cy="105.6" r="5.3"/><circle cx="290.8" cy="126.6" r="5.3"/><circle cx="290.8" cy="147.6" r="5.3"/><circle cx="290.8" cy="168.6" r="5.3"/><circle cx="290.8" cy="189.6" r="5.3"/><circle cx="290.8" cy="231.6" r="5.3"/><circle cx="308.9" cy="95.1" r="5.3"/><circle cx="308.9" cy="116.1" r="5.3"/><circle cx="308.9" cy="137.1" r="5.3"/><circle cx="308.9" cy="158.1" r="5.3"/><circle cx="308.9" cy="179.1" r="5.3"/><circle cx="308.9" cy="221.1" r="5.3"/><circle cx="327.0" cy="84.6" r="5.3"/><circle cx="327.0" cy="105.6" r="5.3"/><circle cx="327.0" cy="126.6" r="5.3"/><circle cx="327.0" cy="147.6" r="5.3"/><circle cx="327.0" cy="168.6" r="5.3"/><circle cx="327.0" cy="189.6" r="5.3"/><circle cx="327.0" cy="210.6" r="5.3"/><circle cx="327.0" cy="231.6" r="5.3"/><circle cx="345.1" cy="74.1" r="5.3"/><circle cx="345.1" cy="95.1" r="5.3"/><circle cx="345.1" cy="116.1" r="5.3"/><circle cx="345.1" cy="137.1" r="5.3"/><circle cx="345.1" cy="158.1" r="5.3"/><circle cx="345.1" cy="179.1" r="5.3"/><circle cx="345.1" cy="221.1" r="5.3"/><circle cx="363.2" cy="84.6" r="5.3"/><circle cx="363.2" cy="105.6" r="5.3"/><circle cx="363.2" cy="126.6" r="5.3"/><circle cx="363.2" cy="147.6" r="5.3"/><circle cx="363.2" cy="168.6" r="5.3"/><circle cx="363.2" cy="210.6" r="5.3"/><circle cx="363.2" cy="231.6" r="5.3"/><circle cx="381.3" cy="74.1" r="5.3"/><circle cx="381.3" cy="95.1" r="5.3"/><circle cx="381.3" cy="116.1" r="5.3"/><circle cx="381.3" cy="137.1" r="5.3"/><circle cx="381.3" cy="179.1" r="5.3"/><circle cx="381.3" cy="200.1" r="5.3"/><circle cx="381.3" cy="221.1" r="5.3"/><circle cx="399.4" cy="84.6" r="5.3"/><circle cx="399.4" cy="105.6" r="5.3"/><circle cx="399.4" cy="126.6" r="5.3"/><circle cx="399.4" cy="168.6" r="5.3"/><circle cx="399.4" cy="189.6" r="5.3"/><circle cx="399.4" cy="210.6" r="5.3"/><circle cx="399.4" cy="231.6" r="5.3"/><circle cx="417.5" cy="74.1" r="5.3"/><circle cx="417.5" cy="95.1" r="5.3"/><circle cx="417.5" cy="137.1" r="5.3"/><circle cx="417.5" cy="158.1" r="5.3"/><circle cx="417.5" cy="179.1" r="5.3"/><circle cx="417.5" cy="200.1" r="5.3"/><circle cx="417.5" cy="221.1" r="5.3"/><circle cx="435.6" cy="126.6" r="5.3"/><circle cx="435.6" cy="147.6" r="5.3"/><circle cx="435.6" cy="168.6" r="5.3"/><circle cx="435.6" cy="189.6" r="5.3"/><circle cx="435.6" cy="210.6" r="5.3"/><circle cx="435.6" cy="231.6" r="5.3"/><circle cx="453.7" cy="74.1" r="5.3"/><circle cx="453.7" cy="95.1" r="5.3"/><circle cx="453.7" cy="116.1" r="5.3"/><circle cx="453.7" cy="137.1" r="5.3"/><circle cx="453.7" cy="158.1" r="5.3"/><circle cx="453.7" cy="179.1" r="5.3"/><circle cx="453.7" cy="200.1" r="5.3"/><circle cx="453.7" cy="221.1" r="5.3"/></g>
<g clip-path="url(#cr)"><circle cx="461.5" cy="100.1" r="5.3"/><circle cx="461.5" cy="121.0" r="5.3"/><circle cx="461.5" cy="141.8" r="5.3"/><circle cx="461.5" cy="162.8" r="5.3"/><circle cx="461.5" cy="183.6" r="5.3"/><circle cx="461.5" cy="204.5" r="5.3"/><circle cx="461.5" cy="225.4" r="5.3"/><circle cx="461.5" cy="246.3" r="5.3"/><circle cx="461.5" cy="267.2" r="5.3"/><circle cx="461.5" cy="288.1" r="5.3"/><circle cx="461.5" cy="309.1" r="5.3"/><circle cx="461.5" cy="329.9" r="5.3"/><circle cx="461.5" cy="350.8" r="5.3"/><circle cx="461.5" cy="371.7" r="5.3"/><circle cx="461.5" cy="392.6" r="5.3"/><circle cx="461.5" cy="413.6" r="5.3"/><circle cx="461.5" cy="434.4" r="5.3"/><circle cx="479.7" cy="110.5" r="5.3"/><circle cx="479.7" cy="131.4" r="5.3"/><circle cx="479.7" cy="152.3" r="5.3"/><circle cx="479.7" cy="173.2" r="5.3"/><circle cx="479.7" cy="194.1" r="5.3"/><circle cx="479.7" cy="215.0" r="5.3"/><circle cx="479.7" cy="319.5" r="5.3"/><circle cx="479.7" cy="340.4" r="5.3"/><circle cx="479.7" cy="361.3" r="5.3"/><circle cx="479.7" cy="382.2" r="5.3"/><circle cx="479.7" cy="403.1" r="5.3"/><circle cx="479.7" cy="424.0" r="5.3"/><circle cx="497.9" cy="100.1" r="5.3"/><circle cx="497.9" cy="121.0" r="5.3"/><circle cx="497.9" cy="141.8" r="5.3"/><circle cx="497.9" cy="162.8" r="5.3"/><circle cx="497.9" cy="246.3" r="5.3"/><circle cx="497.9" cy="267.2" r="5.3"/><circle cx="497.9" cy="288.1" r="5.3"/><circle cx="497.9" cy="371.7" r="5.3"/><circle cx="497.9" cy="392.6" r="5.3"/><circle cx="497.9" cy="413.6" r="5.3"/><circle cx="497.9" cy="434.4" r="5.3"/><circle cx="516.1" cy="110.5" r="5.3"/><circle cx="516.1" cy="131.4" r="5.3"/><circle cx="516.1" cy="194.1" r="5.3"/><circle cx="516.1" cy="215.0" r="5.3"/><circle cx="516.1" cy="235.9" r="5.3"/><circle cx="516.1" cy="256.8" r="5.3"/><circle cx="516.1" cy="277.7" r="5.3"/><circle cx="516.1" cy="298.6" r="5.3"/><circle cx="516.1" cy="319.5" r="5.3"/><circle cx="516.1" cy="340.4" r="5.3"/><circle cx="516.1" cy="403.1" r="5.3"/><circle cx="516.1" cy="424.0" r="5.3"/><circle cx="534.2" cy="121.0" r="5.3"/><circle cx="534.2" cy="162.8" r="5.3"/><circle cx="534.2" cy="183.6" r="5.3"/><circle cx="534.2" cy="204.5" r="5.3"/><circle cx="534.2" cy="225.4" r="5.3"/><circle cx="534.2" cy="246.3" r="5.3"/><circle cx="534.2" cy="267.2" r="5.3"/><circle cx="534.2" cy="288.1" r="5.3"/><circle cx="534.2" cy="309.1" r="5.3"/><circle cx="534.2" cy="329.9" r="5.3"/><circle cx="534.2" cy="350.8" r="5.3"/><circle cx="534.2" cy="371.7" r="5.3"/><circle cx="534.2" cy="413.6" r="5.3"/><circle cx="534.2" cy="434.4" r="5.3"/><circle cx="552.4" cy="131.4" r="5.3"/><circle cx="552.4" cy="152.3" r="5.3"/><circle cx="552.4" cy="173.2" r="5.3"/><circle cx="552.4" cy="194.1" r="5.3"/><circle cx="552.4" cy="215.0" r="5.3"/><circle cx="552.4" cy="235.9" r="5.3"/><circle cx="552.4" cy="256.8" r="5.3"/><circle cx="552.4" cy="277.7" r="5.3"/><circle cx="552.4" cy="298.6" r="5.3"/><circle cx="552.4" cy="319.5" r="5.3"/><circle cx="552.4" cy="340.4" r="5.3"/><circle cx="552.4" cy="361.3" r="5.3"/><circle cx="552.4" cy="382.2" r="5.3"/><circle cx="552.4" cy="403.1" r="5.3"/><circle cx="570.6" cy="162.8" r="5.3"/><circle cx="570.6" cy="183.6" r="5.3"/><circle cx="570.6" cy="204.5" r="5.3"/><circle cx="570.6" cy="225.4" r="5.3"/><circle cx="570.6" cy="246.3" r="5.3"/><circle cx="570.6" cy="267.2" r="5.3"/><circle cx="570.6" cy="288.1" r="5.3"/><circle cx="570.6" cy="309.1" r="5.3"/><circle cx="570.6" cy="329.9" r="5.3"/><circle cx="570.6" cy="350.8" r="5.3"/><circle cx="570.6" cy="371.7" r="5.3"/><circle cx="570.6" cy="392.6" r="5.3"/><circle cx="570.6" cy="413.6" r="5.3"/><circle cx="588.7" cy="194.1" r="5.3"/><circle cx="588.7" cy="215.0" r="5.3"/><circle cx="588.7" cy="235.9" r="5.3"/><circle cx="588.7" cy="256.8" r="5.3"/><circle cx="588.7" cy="277.7" r="5.3"/><circle cx="588.7" cy="298.6" r="5.3"/><circle cx="588.7" cy="319.5" r="5.3"/><circle cx="588.7" cy="340.4" r="5.3"/><circle cx="588.7" cy="361.3" r="5.3"/><circle cx="588.7" cy="382.2" r="5.3"/><circle cx="588.7" cy="403.1" r="5.3"/><circle cx="606.9" cy="225.4" r="5.3"/><circle cx="606.9" cy="246.3" r="5.3"/><circle cx="606.9" cy="267.2" r="5.3"/><circle cx="606.9" cy="288.1" r="5.3"/><circle cx="606.9" cy="309.1" r="5.3"/><circle cx="606.9" cy="329.9" r="5.3"/><circle cx="606.9" cy="350.8" r="5.3"/><circle cx="606.9" cy="371.7" r="5.3"/></g>
<g clip-path="url(#cbl)"><circle cx="181.8" cy="302.5" r="5.3"/><circle cx="181.8" cy="344.5" r="5.3"/><circle cx="199.9" cy="313.0" r="5.3"/><circle cx="199.9" cy="334.0" r="5.3"/><circle cx="199.9" cy="355.0" r="5.3"/><circle cx="199.9" cy="376.0" r="5.3"/><circle cx="199.9" cy="397.0" r="5.3"/><circle cx="218.1" cy="302.5" r="5.3"/><circle cx="218.1" cy="344.5" r="5.3"/><circle cx="218.1" cy="365.5" r="5.3"/><circle cx="218.1" cy="386.5" r="5.3"/><circle cx="218.1" cy="407.5" r="5.3"/><circle cx="236.2" cy="334.0" r="5.3"/><circle cx="236.2" cy="355.0" r="5.3"/><circle cx="236.2" cy="376.0" r="5.3"/><circle cx="236.2" cy="397.0" r="5.3"/><circle cx="236.2" cy="418.0" r="5.3"/><circle cx="254.3" cy="302.5" r="5.3"/><circle cx="254.3" cy="344.5" r="5.3"/><circle cx="254.3" cy="365.5" r="5.3"/><circle cx="254.3" cy="386.5" r="5.3"/><circle cx="254.3" cy="407.5" r="5.3"/><circle cx="254.3" cy="428.5" r="5.3"/><circle cx="272.5" cy="313.0" r="5.3"/><circle cx="272.5" cy="334.0" r="5.3"/><circle cx="272.5" cy="355.0" r="5.3"/><circle cx="272.5" cy="376.0" r="5.3"/><circle cx="272.5" cy="397.0" r="5.3"/><circle cx="272.5" cy="418.0" r="5.3"/><circle cx="290.6" cy="302.5" r="5.3"/><circle cx="290.6" cy="344.5" r="5.3"/><circle cx="290.6" cy="365.5" r="5.3"/><circle cx="290.6" cy="386.5" r="5.3"/><circle cx="290.6" cy="407.5" r="5.3"/><circle cx="290.6" cy="428.5" r="5.3"/><circle cx="308.8" cy="313.0" r="5.3"/><circle cx="308.8" cy="355.0" r="5.3"/><circle cx="308.8" cy="376.0" r="5.3"/><circle cx="308.8" cy="397.0" r="5.3"/><circle cx="308.8" cy="418.0" r="5.3"/><circle cx="308.8" cy="439.0" r="5.3"/><circle cx="326.9" cy="302.5" r="5.3"/><circle cx="326.9" cy="323.5" r="5.3"/><circle cx="326.9" cy="344.5" r="5.3"/><circle cx="326.9" cy="365.5" r="5.3"/><circle cx="326.9" cy="386.5" r="5.3"/><circle cx="326.9" cy="407.5" r="5.3"/><circle cx="326.9" cy="428.5" r="5.3"/><circle cx="345.1" cy="313.0" r="5.3"/><circle cx="345.1" cy="355.0" r="5.3"/><circle cx="345.1" cy="376.0" r="5.3"/><circle cx="345.1" cy="397.0" r="5.3"/><circle cx="345.1" cy="418.0" r="5.3"/><circle cx="345.1" cy="439.0" r="5.3"/><circle cx="363.2" cy="302.5" r="5.3"/><circle cx="363.2" cy="323.5" r="5.3"/><circle cx="363.2" cy="365.5" r="5.3"/><circle cx="363.2" cy="386.5" r="5.3"/><circle cx="363.2" cy="407.5" r="5.3"/><circle cx="363.2" cy="428.5" r="5.3"/><circle cx="381.4" cy="313.0" r="5.3"/><circle cx="381.4" cy="334.0" r="5.3"/><circle cx="381.4" cy="355.0" r="5.3"/><circle cx="381.4" cy="397.0" r="5.3"/><circle cx="381.4" cy="418.0" r="5.3"/><circle cx="381.4" cy="439.0" r="5.3"/><circle cx="399.5" cy="302.5" r="5.3"/><circle cx="399.5" cy="323.5" r="5.3"/><circle cx="399.5" cy="344.5" r="5.3"/><circle cx="399.5" cy="365.5" r="5.3"/><circle cx="399.5" cy="407.5" r="5.3"/><circle cx="399.5" cy="428.5" r="5.3"/><circle cx="417.7" cy="313.0" r="5.3"/><circle cx="417.7" cy="334.0" r="5.3"/><circle cx="417.7" cy="355.0" r="5.3"/><circle cx="417.7" cy="376.0" r="5.3"/><circle cx="417.7" cy="439.0" r="5.3"/><circle cx="435.9" cy="302.5" r="5.3"/><circle cx="435.9" cy="323.5" r="5.3"/><circle cx="435.9" cy="344.5" r="5.3"/><circle cx="435.9" cy="365.5" r="5.3"/><circle cx="435.9" cy="386.5" r="5.3"/><circle cx="435.9" cy="407.5" r="5.3"/><circle cx="454.0" cy="313.0" r="5.3"/><circle cx="454.0" cy="334.0" r="5.3"/><circle cx="454.0" cy="355.0" r="5.3"/><circle cx="454.0" cy="376.0" r="5.3"/><circle cx="454.0" cy="397.0" r="5.3"/><circle cx="454.0" cy="418.0" r="5.3"/><circle cx="454.0" cy="439.0" r="5.3"/></g>
</g>
<path d="M303.6 95.9 A5.3 5.3 0 0 1 314.2 95.9 Z" fill="#24333c"/>
<path d="M286.1 108.6 A5.3 5.3 0 0 1 294.9 102.8 Z" fill="#24333c"/>
<g clip-path="url(#cringin)"><path d="M232.3 140.4 A5.3 5.3 0 0 1 240.6 133.7 Z" fill="#24333c"/><path d="M196.4 203.7 A5.3 5.3 0 0 1 203.9 196.2 Z" fill="#24333c"/></g>
<g clip-path="url(#cring)">
<path d="M174.7 207.2 L176.8 207.5 L179.0 207.8 L181.2 208.1 L183.4 208.4 L185.5 208.7 L187.7 209.1 L189.9 209.4 L192.0 209.8 L194.2 210.1 L196.3 210.4 L198.5 210.8 L200.6 211.1 L202.8 211.5 L204.9 211.8 L207.1 212.2 L209.2 212.5 L211.4 212.8 L213.5 213.1 L215.6 213.4 L217.7 213.7 L219.9 213.9 L222.0 214.2 L224.1 214.4 L226.2 214.6 L228.3 214.8 L230.4 214.9 L232.5 215.1 L234.6 215.2 L236.8 215.3 L238.9 215.4 L241.0 215.4 L243.1 215.4 L245.2 215.4 L247.3 215.4 L249.4 215.4 L251.5 215.4 L253.6 215.3 L255.7 215.2 L257.8 215.1 L259.9 214.9 L262.0 214.8 L264.1 214.6 L266.2 214.4 L268.3 214.2 L270.4 213.9 L272.5 213.7 L274.6 213.4 L276.6 213.1 L278.7 212.7 L280.8 212.4 L282.9 212.0 L285.0 211.6 L287.1 211.2 L289.2 210.8 L291.2 210.4 L293.3 209.9 L295.4 209.5 L297.5 209.0 L299.6 208.5 L301.7 208.0 L303.8 207.5 L305.9 207.0 L307.9 206.5 L310.0 206.0 L312.1 205.4 L314.1 204.9 L316.1 204.3 L318.2 203.8 L320.2 203.2 L322.2 202.6 L324.2 201.9 L326.1 201.3 L328.1 200.6 L330.0 199.9 L332.0 199.2 L333.9 198.4 L335.8 197.6 L337.7 196.8 L339.5 196.0 L341.4 195.1 L343.2 194.2 L345.1 193.3 L346.9 192.3 L348.7 191.3 L350.4 190.3 L352.2 189.3 L354.0 188.2 L355.7 187.1 L357.4 185.9 L359.2 184.8 L360.9 183.6 L362.5 182.4 L364.2 181.1 L365.9 179.8 L367.6 178.5 L369.2 177.2 L370.9 175.9 L372.5 174.6 L374.1 173.2 L375.7 171.9 L377.3 170.5 L378.9 169.1 L380.4 167.7 L381.9 166.2 L383.5 164.8 L385.0 163.3 L386.5 161.8 L387.9 160.3 L389.4 158.8 L390.8 157.3 L392.2 155.8 L393.6 154.2 L395.0 152.6 L396.3 151.0 L397.7 149.4 L399.0 147.8 L400.3 146.2 L401.6 144.5 L402.9 142.8 L404.1 141.1 L405.4 139.4 L406.6 137.7 L407.8 136.0 L409.1 134.2 L410.3 132.5 L411.5 130.7 L412.7 128.9 L413.9 127.1 L415.1 125.3 L416.3 123.5 L417.4 121.7 L418.6 119.9 L419.8 118.1 L420.9 116.3 L422.1 114.5 L423.2 112.6 L424.3 110.8 L425.4 109.0 L426.5 107.2 L427.6 105.3 L428.6 103.5 L429.6 101.7 L430.6 99.8 L431.6 98.0 L432.5 96.1 L433.4 94.3 L434.3 92.4 L435.1 90.5 L435.9 88.6 L436.7 86.7 L437.4 84.8 L438.1 82.9 L438.7 81.0 L439.3 79.0 L439.9 77.1 L440.4 75.1 L440.9 73.1 L441.3 71.1 L441.7 69.0 L453.3 71.0 L452.9 73.2 L452.5 75.5 L452.0 77.8 L451.5 80.1 L450.9 82.3 L450.2 84.5 L449.6 86.7 L448.8 88.9 L448.1 91.1 L447.2 93.2 L446.4 95.3 L445.5 97.4 L444.6 99.5 L443.7 101.5 L442.7 103.5 L441.7 105.5 L440.7 107.5 L439.6 109.5 L438.6 111.5 L437.5 113.5 L436.4 115.4 L435.2 117.3 L434.1 119.2 L433.0 121.1 L431.8 123.0 L430.7 124.9 L429.5 126.8 L428.4 128.7 L427.2 130.5 L426.0 132.4 L424.8 134.3 L423.6 136.1 L422.4 138.0 L421.2 139.8 L420.0 141.7 L418.8 143.5 L417.5 145.3 L416.3 147.2 L415.0 149.0 L413.7 150.8 L412.3 152.6 L411.0 154.4 L409.6 156.2 L408.3 158.0 L406.9 159.7 L405.4 161.4 L404.0 163.2 L402.5 164.9 L401.0 166.6 L399.5 168.2 L398.0 169.9 L396.4 171.5 L394.9 173.2 L393.3 174.8 L391.7 176.4 L390.1 177.9 L388.4 179.5 L386.8 181.0 L385.1 182.5 L383.4 184.0 L381.7 185.5 L380.0 187.0 L378.2 188.4 L376.5 189.9 L374.7 191.2 L372.9 192.6 L371.0 194.0 L369.2 195.3 L367.3 196.6 L365.4 197.9 L363.5 199.2 L361.6 200.4 L359.7 201.6 L357.7 202.8 L355.7 203.9 L353.7 205.0 L351.7 206.1 L349.6 207.1 L347.6 208.1 L345.5 209.1 L343.5 210.0 L341.4 210.9 L339.3 211.8 L337.2 212.6 L335.0 213.4 L332.9 214.2 L330.8 214.9 L328.6 215.6 L326.5 216.3 L324.3 217.0 L322.2 217.6 L320.0 218.2 L317.8 218.8 L315.6 219.4 L313.5 219.9 L311.3 220.4 L309.1 220.9 L306.9 221.4 L304.8 221.8 L302.6 222.3 L300.4 222.7 L298.2 223.1 L296.0 223.5 L293.9 223.9 L291.7 224.3 L289.5 224.6 L287.3 225.0 L285.0 225.3 L282.8 225.6 L280.6 225.9 L278.4 226.2 L276.2 226.4 L273.9 226.6 L271.7 226.8 L269.5 227.0 L267.3 227.2 L265.0 227.3 L262.8 227.4 L260.6 227.5 L258.3 227.6 L256.1 227.6 L253.9 227.7 L251.7 227.7 L249.4 227.6 L247.2 227.6 L245.0 227.5 L242.7 227.4 L240.5 227.3 L238.3 227.2 L236.1 227.1 L233.8 226.9 L231.6 226.7 L229.4 226.5 L227.2 226.2 L225.0 225.9 L222.8 225.7 L220.6 225.3 L218.4 225.0 L216.2 224.7 L214.0 224.3 L211.8 223.9 L209.6 223.5 L207.4 223.1 L205.3 222.7 L203.1 222.3 L200.9 221.9 L198.8 221.5 L196.6 221.1 L194.5 220.6 L192.4 220.2 L190.2 219.8 L188.1 219.4 L186.0 219.0 L183.9 218.6 L181.7 218.2 L179.6 217.8 L177.5 217.4 L175.4 217.1 L173.3 216.7 Z" fill="#fff" stroke="none"/>
<path d="M174.7 207.2 L176.8 207.5 L179.0 207.8 L181.2 208.1 L183.4 208.4 L185.5 208.7 L187.7 209.1 L189.9 209.4 L192.0 209.8 L194.2 210.1 L196.3 210.4 L198.5 210.8 L200.6 211.1 L202.8 211.5 L204.9 211.8 L207.1 212.2 L209.2 212.5 L211.4 212.8 L213.5 213.1 L215.6 213.4 L217.7 213.7 L219.9 213.9 L222.0 214.2 L224.1 214.4 L226.2 214.6 L228.3 214.8 L230.4 214.9 L232.5 215.1 L234.6 215.2 L236.8 215.3 L238.9 215.4 L241.0 215.4 L243.1 215.4 L245.2 215.4 L247.3 215.4 L249.4 215.4 L251.5 215.4 L253.6 215.3 L255.7 215.2 L257.8 215.1 L259.9 214.9 L262.0 214.8 L264.1 214.6 L266.2 214.4 L268.3 214.2 L270.4 213.9 L272.5 213.7 L274.6 213.4 L276.6 213.1 L278.7 212.7 L280.8 212.4 L282.9 212.0 L285.0 211.6 L287.1 211.2 L289.2 210.8 L291.2 210.4 L293.3 209.9 L295.4 209.5 L297.5 209.0 L299.6 208.5 L301.7 208.0 L303.8 207.5 L305.9 207.0 L307.9 206.5 L310.0 206.0 L312.1 205.4 L314.1 204.9 L316.1 204.3 L318.2 203.8 L320.2 203.2 L322.2 202.6 L324.2 201.9 L326.1 201.3 L328.1 200.6 L330.0 199.9 L332.0 199.2 L333.9 198.4 L335.8 197.6 L337.7 196.8 L339.5 196.0 L341.4 195.1 L343.2 194.2 L345.1 193.3 L346.9 192.3 L348.7 191.3 L350.4 190.3 L352.2 189.3 L354.0 188.2 L355.7 187.1 L357.4 185.9 L359.2 184.8 L360.9 183.6 L362.5 182.4 L364.2 181.1 L365.9 179.8 L367.6 178.5 L369.2 177.2 L370.9 175.9 L372.5 174.6 L374.1 173.2 L375.7 171.9 L377.3 170.5 L378.9 169.1 L380.4 167.7 L381.9 166.2 L383.5 164.8 L385.0 163.3 L386.5 161.8 L387.9 160.3 L389.4 158.8 L390.8 157.3 L392.2 155.8 L393.6 154.2 L395.0 152.6 L396.3 151.0 L397.7 149.4 L399.0 147.8 L400.3 146.2 L401.6 144.5 L402.9 142.8 L404.1 141.1 L405.4 139.4 L406.6 137.7 L407.8 136.0 L409.1 134.2 L410.3 132.5 L411.5 130.7 L412.7 128.9 L413.9 127.1 L415.1 125.3 L416.3 123.5 L417.4 121.7 L418.6 119.9 L419.8 118.1 L420.9 116.3 L422.1 114.5 L423.2 112.6 L424.3 110.8 L425.4 109.0 L426.5 107.2 L427.6 105.3 L428.6 103.5 L429.6 101.7 L430.6 99.8 L431.6 98.0 L432.5 96.1 L433.4 94.3 L434.3 92.4 L435.1 90.5 L435.9 88.6 L436.7 86.7 L437.4 84.8 L438.1 82.9 L438.7 81.0 L439.3 79.0 L439.9 77.1 L440.4 75.1 L440.9 73.1 L441.3 71.1 L441.7 69.0" fill="none" stroke="#24333c" stroke-width="1.40" stroke-linejoin="round" stroke-linecap="round" />
<path d="M173.3 216.7 L175.4 217.1 L177.5 217.4 L179.6 217.8 L181.7 218.2 L183.9 218.6 L186.0 219.0 L188.1 219.4 L190.2 219.8 L192.4 220.2 L194.5 220.6 L196.6 221.1 L198.8 221.5 L200.9 221.9 L203.1 222.3 L205.3 222.7 L207.4 223.1 L209.6 223.5 L211.8 223.9 L214.0 224.3 L216.2 224.7 L218.4 225.0 L220.6 225.3 L222.8 225.7 L225.0 225.9 L227.2 226.2 L229.4 226.5 L231.6 226.7 L233.8 226.9 L236.1 227.1 L238.3 227.2 L240.5 227.3 L242.7 227.4 L245.0 227.5 L247.2 227.6 L249.4 227.6 L251.7 227.7 L253.9 227.7 L256.1 227.6 L258.3 227.6 L260.6 227.5 L262.8 227.4 L265.0 227.3 L267.3 227.2 L269.5 227.0 L271.7 226.8 L273.9 226.6 L276.2 226.4 L278.4 226.2 L280.6 225.9 L282.8 225.6 L285.0 225.3 L287.3 225.0 L289.5 224.6 L291.7 224.3 L293.9 223.9 L296.0 223.5 L298.2 223.1 L300.4 222.7 L302.6 222.3 L304.8 221.8 L306.9 221.4 L309.1 220.9 L311.3 220.4 L313.5 219.9 L315.6 219.4 L317.8 218.8 L320.0 218.2 L322.2 217.6 L324.3 217.0 L326.5 216.3 L328.6 215.6 L330.8 214.9 L332.9 214.2 L335.0 213.4 L337.2 212.6 L339.3 211.8 L341.4 210.9 L343.5 210.0 L345.5 209.1 L347.6 208.1 L349.6 207.1 L351.7 206.1 L353.7 205.0 L355.7 203.9 L357.7 202.8 L359.7 201.6 L361.6 200.4 L363.5 199.2 L365.4 197.9 L367.3 196.6 L369.2 195.3 L371.0 194.0 L372.9 192.6 L374.7 191.2 L376.5 189.9 L378.2 188.4 L380.0 187.0 L381.7 185.5 L383.4 184.0 L385.1 182.5 L386.8 181.0 L388.4 179.5 L390.1 177.9 L391.7 176.4 L393.3 174.8 L394.9 173.2 L396.4 171.5 L398.0 169.9 L399.5 168.2 L401.0 166.6 L402.5 164.9 L404.0 163.2 L405.4 161.4 L406.9 159.7 L408.3 158.0 L409.6 156.2 L411.0 154.4 L412.3 152.6 L413.7 150.8 L415.0 149.0 L416.3 147.2 L417.5 145.3 L418.8 143.5 L420.0 141.7 L421.2 139.8 L422.4 138.0 L423.6 136.1 L424.8 134.3 L426.0 132.4 L427.2 130.5 L428.4 128.7 L429.5 126.8 L430.7 124.9 L431.8 123.0 L433.0 121.1 L434.1 119.2 L435.2 117.3 L436.4 115.4 L437.5 113.5 L438.6 111.5 L439.6 109.5 L440.7 107.5 L441.7 105.5 L442.7 103.5 L443.7 101.5 L444.6 99.5 L445.5 97.4 L446.4 95.3 L447.2 93.2 L448.1 91.1 L448.8 88.9 L449.6 86.7 L450.2 84.5 L450.9 82.3 L451.5 80.1 L452.0 77.8 L452.5 75.5 L452.9 73.2 L453.3 71.0" fill="none" stroke="#24333c" stroke-width="1.40" stroke-linejoin="round" stroke-linecap="round" />
<path d="M174.3 210.2 L176.4 210.5 L178.6 210.8 L180.7 211.1 L182.9 211.4 L185.0 211.7 L187.2 212.0 L189.3 212.4 L191.5 212.7 L193.6 213.1 L195.8 213.4 L198.0 213.7 L200.1 214.1 L202.3 214.4 L204.4 214.8 L206.6 215.1 L208.7 215.4 L210.9 215.8 L213.0 216.1 L215.2 216.4 L217.3 216.6 L219.5 216.9 L221.6 217.1 L223.7 217.4 L225.9 217.6 L228.0 217.8 L230.2 217.9 L232.3 218.1 L234.4 218.2 L236.6 218.3 L238.7 218.4 L240.9 218.4 L243.0 218.4 L245.1 218.4 L247.3 218.4 L249.4 218.4 L251.5 218.4 L253.7 218.3 L255.8 218.2 L257.9 218.1 L260.1 217.9 L262.2 217.8 L264.3 217.6 L266.4 217.4 L268.6 217.2 L270.7 216.9 L272.8 216.6 L274.9 216.4 L277.0 216.0 L279.2 215.7 L281.3 215.4 L283.4 215.0 L285.5 214.6 L287.6 214.2 L289.7 213.8 L291.8 213.3 L293.9 212.9 L296.0 212.4 L298.1 211.9 L300.3 211.4 L302.4 211.0 L304.5 210.4 L306.6 209.9 L308.6 209.4 L310.7 208.9 L312.8 208.3 L314.9 207.8 L316.9 207.2 L319.0 206.7 L321.0 206.1 L323.1 205.4 L325.1 204.8 L327.1 204.1 L329.1 203.4 L331.1 202.7 L333.0 202.0 L335.0 201.2 L336.9 200.4 L338.9 199.6 L340.8 198.7 L342.7 197.8 L344.6 196.9 L346.4 196.0 L348.3 195.0 L350.1 194.0 L352.0 192.9 L353.8 191.8 L355.6 190.7 L357.3 189.6 L359.1 188.4 L360.9 187.2 L362.6 186.0 L364.3 184.8 L366.0 183.5 L367.7 182.2 L369.4 180.9 L371.1 179.6 L372.8 178.2 L374.4 176.9 L376.1 175.5 L377.7 174.1 L379.3 172.7 L380.9 171.3 L382.5 169.9 L384.0 168.4 L385.6 166.9 L387.1 165.4 L388.6 163.9 L390.1 162.4 L391.6 160.9 L393.0 159.3 L394.5 157.7 L395.9 156.2 L397.3 154.6 L398.7 152.9 L400.0 151.3 L401.3 149.7 L402.7 148.0 L404.0 146.3 L405.3 144.6 L406.6 142.9 L407.8 141.2 L409.1 139.4 L410.3 137.7 L411.6 135.9 L412.8 134.1 L414.0 132.3 L415.2 130.6 L416.4 128.8 L417.6 127.0 L418.8 125.1 L420.0 123.3 L421.2 121.5 L422.3 119.7 L423.5 117.8 L424.6 116.0 L425.8 114.2 L426.9 112.4 L428.0 110.5 L429.1 108.7 L430.2 106.8 L431.3 105.0 L432.3 103.1 L433.3 101.2 L434.3 99.3 L435.2 97.4 L436.1 95.5 L437.0 93.6 L437.9 91.7 L438.7 89.8 L439.5 87.8 L440.2 85.8 L440.9 83.9 L441.6 81.9 L442.2 79.9 L442.8 77.8 L443.3 75.8 L443.8 73.7 L444.2 71.6 L444.6 69.5" fill="none" stroke="#24333c" stroke-width="1.40" stroke-linejoin="round" stroke-linecap="round" />
<path d="M173.7 213.8 L175.9 214.1 L178.0 214.5 L180.1 214.8 L182.2 215.2 L184.4 215.6 L186.5 216.0 L188.6 216.4 L190.8 216.8 L192.9 217.3 L195.0 217.7 L197.2 218.1 L199.3 218.5 L201.5 219.0 L203.6 219.4 L205.8 219.8 L207.9 220.2 L210.1 220.6 L212.2 221.0 L214.4 221.3 L216.6 221.7 L218.8 222.0 L220.9 222.4 L223.1 222.7 L225.3 223.0 L227.5 223.2 L229.7 223.5 L231.9 223.7 L234.1 223.9 L236.2 224.1 L238.4 224.2 L240.6 224.3 L242.8 224.5 L245.0 224.5 L247.2 224.6 L249.4 224.6 L251.6 224.7 L253.8 224.7 L256.0 224.6 L258.2 224.6 L260.4 224.5 L262.6 224.4 L264.8 224.3 L267.0 224.2 L269.2 224.0 L271.4 223.9 L273.6 223.7 L275.8 223.4 L278.0 223.2 L280.2 222.9 L282.4 222.7 L284.6 222.3 L286.7 222.0 L288.9 221.7 L291.1 221.3 L293.3 220.9 L295.5 220.6 L297.6 220.2 L299.8 219.7 L302.0 219.3 L304.1 218.9 L306.3 218.4 L308.4 218.0 L310.6 217.5 L312.8 217.0 L314.9 216.5 L317.0 215.9 L319.2 215.3 L321.3 214.7 L323.5 214.1 L325.6 213.5 L327.7 212.8 L329.8 212.1 L331.9 211.3 L334.0 210.6 L336.1 209.8 L338.1 209.0 L340.2 208.1 L342.2 207.3 L344.3 206.3 L346.3 205.4 L348.3 204.4 L350.3 203.4 L352.3 202.4 L354.2 201.3 L356.2 200.2 L358.1 199.0 L360.0 197.9 L361.9 196.6 L363.8 195.4 L365.6 194.2 L367.5 192.9 L369.3 191.6 L371.1 190.2 L372.9 188.9 L374.6 187.5 L376.4 186.1 L378.1 184.7 L379.8 183.2 L381.4 181.8 L383.1 180.3 L384.8 178.8 L386.4 177.3 L388.0 175.7 L389.6 174.2 L391.2 172.6 L392.7 171.1 L394.3 169.5 L395.8 167.8 L397.3 166.2 L398.8 164.6 L400.3 162.9 L401.7 161.2 L403.1 159.5 L404.5 157.8 L405.9 156.1 L407.3 154.3 L408.6 152.6 L410.0 150.8 L411.3 149.0 L412.5 147.2 L413.8 145.4 L415.1 143.6 L416.3 141.8 L417.5 140.0 L418.7 138.1 L419.9 136.3 L421.1 134.5 L422.3 132.6 L423.5 130.8 L424.7 128.9 L425.8 127.1 L427.0 125.2 L428.1 123.3 L429.3 121.5 L430.4 119.6 L431.6 117.7 L432.7 115.8 L433.8 113.9 L434.9 112.0 L435.9 110.0 L437.0 108.1 L438.0 106.1 L439.0 104.2 L440.0 102.2 L441.0 100.2 L441.9 98.2 L442.8 96.2 L443.6 94.1 L444.5 92.1 L445.2 90.0 L446.0 87.9 L446.7 85.8 L447.4 83.7 L448.0 81.5 L448.6 79.3 L449.1 77.1 L449.6 74.9 L450.0 72.7 L450.3 70.5" fill="none" stroke="#24333c" stroke-width="1.40" stroke-linejoin="round" stroke-linecap="round" />
</g>
<g clip-path="url(#cring)">
<path d="M547.1 117.6 L546.2 119.7 L545.1 121.7 L543.9 123.6 L542.7 125.6 L541.5 127.5 L540.3 129.4 L539.0 131.3 L537.7 133.2 L536.5 135.1 L535.2 136.9 L533.9 138.8 L532.6 140.6 L531.4 142.4 L530.1 144.3 L528.9 146.1 L527.7 147.9 L526.5 149.7 L525.3 151.5 L524.1 153.3 L522.9 155.2 L521.8 157.0 L520.7 158.8 L519.6 160.6 L518.5 162.5 L517.4 164.3 L516.3 166.2 L515.3 168.0 L514.2 169.9 L513.2 171.8 L512.2 173.6 L511.2 175.5 L510.2 177.4 L509.3 179.3 L508.3 181.2 L507.4 183.2 L506.4 185.1 L505.5 187.0 L504.6 189.0 L503.8 190.9 L502.9 192.9 L502.1 194.9 L501.2 196.9 L500.4 198.9 L499.6 200.9 L498.8 202.9 L498.0 205.0 L497.3 207.0 L496.5 209.0 L495.8 211.1 L495.1 213.2 L494.4 215.2 L493.7 217.3 L493.1 219.4 L492.5 221.5 L491.9 223.6 L491.3 225.6 L490.7 227.7 L490.2 229.8 L489.7 231.9 L489.2 234.1 L488.7 236.2 L488.3 238.3 L487.9 240.4 L487.5 242.5 L487.1 244.6 L486.8 246.7 L486.4 248.8 L486.2 250.9 L485.9 253.0 L485.7 255.1 L485.5 257.3 L485.3 259.4 L485.1 261.5 L485.0 263.5 L484.9 265.6 L484.9 267.7 L484.8 269.8 L484.9 271.9 L484.9 274.0 L485.0 276.0 L485.1 278.1 L485.2 280.1 L485.4 282.2 L485.6 284.2 L485.8 286.3 L486.1 288.3 L486.4 290.3 L486.7 292.4 L487.1 294.4 L487.5 296.4 L487.9 298.5 L488.4 300.5 L488.9 302.5 L489.4 304.5 L490.0 306.6 L490.5 308.6 L491.1 310.6 L491.8 312.6 L492.4 314.6 L493.1 316.7 L493.8 318.7 L494.5 320.7 L495.3 322.7 L496.0 324.7 L496.8 326.7 L497.6 328.7 L498.5 330.7 L499.3 332.7 L500.2 334.7 L501.1 336.7 L502.0 338.7 L502.9 340.7 L503.8 342.7 L504.7 344.7 L505.7 346.7 L506.6 348.6 L507.6 350.6 L508.6 352.6 L509.6 354.6 L510.6 356.6 L511.6 358.5 L512.6 360.5 L513.7 362.5 L514.7 364.4 L515.7 366.4 L516.7 368.3 L517.8 370.3 L518.8 372.2 L519.9 374.1 L520.9 376.0 L522.0 377.9 L523.1 379.8 L524.2 381.6 L525.3 383.5 L526.4 385.4 L527.5 387.2 L528.6 389.0 L529.8 390.8 L530.9 392.6 L532.1 394.4 L533.3 396.2 L534.5 398.0 L535.7 399.7 L537.0 401.4 L538.2 403.1 L539.5 404.8 L540.8 406.5 L542.1 408.2 L543.4 409.8 L544.8 411.4 L546.2 413.0 L547.6 414.5 L549.0 416.0 L550.5 417.4 L552.0 418.8 L553.5 420.2 L555.1 421.6 L556.7 422.9 L558.3 424.3 L553.4 432.1 L551.2 431.1 L549.1 429.9 L547.1 428.6 L545.2 427.2 L543.3 425.7 L541.4 424.2 L539.6 422.7 L537.9 421.1 L536.2 419.4 L534.6 417.8 L533.0 416.1 L531.4 414.4 L529.9 412.7 L528.4 410.9 L527.0 409.2 L525.5 407.4 L524.1 405.6 L522.7 403.8 L521.4 402.0 L520.0 400.2 L518.7 398.3 L517.4 396.5 L516.1 394.6 L514.8 392.7 L513.6 390.8 L512.3 388.9 L511.1 387.0 L509.9 385.1 L508.7 383.2 L507.5 381.3 L506.4 379.3 L505.2 377.4 L504.1 375.4 L502.9 373.5 L501.8 371.5 L500.7 369.5 L499.6 367.6 L498.5 365.6 L497.4 363.6 L496.3 361.6 L495.2 359.6 L494.1 357.6 L493.0 355.5 L492.0 353.5 L490.9 351.5 L489.9 349.4 L488.9 347.4 L487.9 345.3 L486.9 343.2 L485.9 341.1 L484.9 339.0 L484.0 336.9 L483.1 334.8 L482.2 332.7 L481.3 330.6 L480.4 328.4 L479.6 326.3 L478.8 324.1 L478.0 322.0 L477.2 319.8 L476.5 317.6 L475.7 315.4 L475.0 313.2 L474.4 311.0 L473.8 308.8 L473.2 306.5 L472.6 304.3 L472.0 302.1 L471.5 299.8 L471.1 297.5 L470.6 295.2 L470.3 293.0 L469.9 290.7 L469.6 288.3 L469.3 286.0 L469.1 283.7 L468.9 281.4 L468.7 279.1 L468.6 276.7 L468.5 274.4 L468.5 272.1 L468.5 269.7 L468.5 267.4 L468.6 265.1 L468.7 262.7 L468.8 260.4 L469.0 258.1 L469.2 255.7 L469.4 253.4 L469.7 251.1 L470.0 248.8 L470.3 246.4 L470.7 244.1 L471.1 241.8 L471.5 239.5 L472.0 237.2 L472.5 234.9 L473.0 232.6 L473.5 230.4 L474.1 228.1 L474.7 225.8 L475.3 223.6 L476.0 221.3 L476.6 219.1 L477.3 216.8 L478.0 214.6 L478.8 212.4 L479.5 210.2 L480.3 208.0 L481.1 205.8 L481.9 203.6 L482.8 201.5 L483.6 199.3 L484.5 197.2 L485.4 195.1 L486.3 193.0 L487.3 190.9 L488.2 188.8 L489.2 186.7 L490.2 184.6 L491.2 182.6 L492.2 180.6 L493.2 178.5 L494.3 176.5 L495.3 174.5 L496.4 172.6 L497.5 170.6 L498.6 168.6 L499.7 166.7 L500.9 164.7 L502.0 162.8 L503.2 160.9 L504.4 159.0 L505.6 157.1 L506.8 155.2 L508.1 153.3 L509.4 151.5 L510.6 149.6 L511.9 147.8 L513.2 145.9 L514.6 144.1 L515.9 142.3 L517.3 140.5 L518.6 138.7 L520.0 136.9 L521.4 135.1 L522.8 133.3 L524.2 131.6 L525.6 129.8 L527.0 128.1 L528.4 126.3 L529.8 124.6 L531.2 122.9 L532.5 121.2 L533.9 119.4 L535.2 117.7 L536.6 116.0 L537.9 114.3 L539.3 112.6 Z" fill="#fff" stroke="none"/>
<path d="M547.1 117.6 L546.2 119.7 L545.1 121.7 L543.9 123.6 L542.7 125.6 L541.5 127.5 L540.3 129.4 L539.0 131.3 L537.7 133.2 L536.5 135.1 L535.2 136.9 L533.9 138.8 L532.6 140.6 L531.4 142.4 L530.1 144.3 L528.9 146.1 L527.7 147.9 L526.5 149.7 L525.3 151.5 L524.1 153.3 L522.9 155.2 L521.8 157.0 L520.7 158.8 L519.6 160.6 L518.5 162.5 L517.4 164.3 L516.3 166.2 L515.3 168.0 L514.2 169.9 L513.2 171.8 L512.2 173.6 L511.2 175.5 L510.2 177.4 L509.3 179.3 L508.3 181.2 L507.4 183.2 L506.4 185.1 L505.5 187.0 L504.6 189.0 L503.8 190.9 L502.9 192.9 L502.1 194.9 L501.2 196.9 L500.4 198.9 L499.6 200.9 L498.8 202.9 L498.0 205.0 L497.3 207.0 L496.5 209.0 L495.8 211.1 L495.1 213.2 L494.4 215.2 L493.7 217.3 L493.1 219.4 L492.5 221.5 L491.9 223.6 L491.3 225.6 L490.7 227.7 L490.2 229.8 L489.7 231.9 L489.2 234.1 L488.7 236.2 L488.3 238.3 L487.9 240.4 L487.5 242.5 L487.1 244.6 L486.8 246.7 L486.4 248.8 L486.2 250.9 L485.9 253.0 L485.7 255.1 L485.5 257.3 L485.3 259.4 L485.1 261.5 L485.0 263.5 L484.9 265.6 L484.9 267.7 L484.8 269.8 L484.9 271.9 L484.9 274.0 L485.0 276.0 L485.1 278.1 L485.2 280.1 L485.4 282.2 L485.6 284.2 L485.8 286.3 L486.1 288.3 L486.4 290.3 L486.7 292.4 L487.1 294.4 L487.5 296.4 L487.9 298.5 L488.4 300.5 L488.9 302.5 L489.4 304.5 L490.0 306.6 L490.5 308.6 L491.1 310.6 L491.8 312.6 L492.4 314.6 L493.1 316.7 L493.8 318.7 L494.5 320.7 L495.3 322.7 L496.0 324.7 L496.8 326.7 L497.6 328.7 L498.5 330.7 L499.3 332.7 L500.2 334.7 L501.1 336.7 L502.0 338.7 L502.9 340.7 L503.8 342.7 L504.7 344.7 L505.7 346.7 L506.6 348.6 L507.6 350.6 L508.6 352.6 L509.6 354.6 L510.6 356.6 L511.6 358.5 L512.6 360.5 L513.7 362.5 L514.7 364.4 L515.7 366.4 L516.7 368.3 L517.8 370.3 L518.8 372.2 L519.9 374.1 L520.9 376.0 L522.0 377.9 L523.1 379.8 L524.2 381.6 L525.3 383.5 L526.4 385.4 L527.5 387.2 L528.6 389.0 L529.8 390.8 L530.9 392.6 L532.1 394.4 L533.3 396.2 L534.5 398.0 L535.7 399.7 L537.0 401.4 L538.2 403.1 L539.5 404.8 L540.8 406.5 L542.1 408.2 L543.4 409.8 L544.8 411.4 L546.2 413.0 L547.6 414.5 L549.0 416.0 L550.5 417.4 L552.0 418.8 L553.5 420.2 L555.1 421.6 L556.7 422.9 L558.3 424.3" fill="none" stroke="#24333c" stroke-width="1.40" stroke-linejoin="round" stroke-linecap="round" />
<path d="M539.3 112.6 L537.9 114.3 L536.6 116.0 L535.2 117.7 L533.9 119.4 L532.5 121.2 L531.2 122.9 L529.8 124.6 L528.4 126.3 L527.0 128.1 L525.6 129.8 L524.2 131.6 L522.8 133.3 L521.4 135.1 L520.0 136.9 L518.6 138.7 L517.3 140.5 L515.9 142.3 L514.6 144.1 L513.2 145.9 L511.9 147.8 L510.6 149.6 L509.4 151.5 L508.1 153.3 L506.8 155.2 L505.6 157.1 L504.4 159.0 L503.2 160.9 L502.0 162.8 L500.9 164.7 L499.7 166.7 L498.6 168.6 L497.5 170.6 L496.4 172.6 L495.3 174.5 L494.3 176.5 L493.2 178.5 L492.2 180.6 L491.2 182.6 L490.2 184.6 L489.2 186.7 L488.2 188.8 L487.3 190.9 L486.3 193.0 L485.4 195.1 L484.5 197.2 L483.6 199.3 L482.8 201.5 L481.9 203.6 L481.1 205.8 L480.3 208.0 L479.5 210.2 L478.8 212.4 L478.0 214.6 L477.3 216.8 L476.6 219.1 L476.0 221.3 L475.3 223.6 L474.7 225.8 L474.1 228.1 L473.5 230.4 L473.0 232.6 L472.5 234.9 L472.0 237.2 L471.5 239.5 L471.1 241.8 L470.7 244.1 L470.3 246.4 L470.0 248.8 L469.7 251.1 L469.4 253.4 L469.2 255.7 L469.0 258.1 L468.8 260.4 L468.7 262.7 L468.6 265.1 L468.5 267.4 L468.5 269.7 L468.5 272.1 L468.5 274.4 L468.6 276.7 L468.7 279.1 L468.9 281.4 L469.1 283.7 L469.3 286.0 L469.6 288.3 L469.9 290.7 L470.3 293.0 L470.6 295.2 L471.1 297.5 L471.5 299.8 L472.0 302.1 L472.6 304.3 L473.2 306.5 L473.8 308.8 L474.4 311.0 L475.0 313.2 L475.7 315.4 L476.5 317.6 L477.2 319.8 L478.0 322.0 L478.8 324.1 L479.6 326.3 L480.4 328.4 L481.3 330.6 L482.2 332.7 L483.1 334.8 L484.0 336.9 L484.9 339.0 L485.9 341.1 L486.9 343.2 L487.9 345.3 L488.9 347.4 L489.9 349.4 L490.9 351.5 L492.0 353.5 L493.0 355.5 L494.1 357.6 L495.2 359.6 L496.3 361.6 L497.4 363.6 L498.5 365.6 L499.6 367.6 L500.7 369.5 L501.8 371.5 L502.9 373.5 L504.1 375.4 L505.2 377.4 L506.4 379.3 L507.5 381.3 L508.7 383.2 L509.9 385.1 L511.1 387.0 L512.3 388.9 L513.6 390.8 L514.8 392.7 L516.1 394.6 L517.4 396.5 L518.7 398.3 L520.0 400.2 L521.4 402.0 L522.7 403.8 L524.1 405.6 L525.5 407.4 L527.0 409.2 L528.4 410.9 L529.9 412.7 L531.4 414.4 L533.0 416.1 L534.6 417.8 L536.2 419.4 L537.9 421.1 L539.6 422.7 L541.4 424.2 L543.3 425.7 L545.2 427.2 L547.1 428.6 L549.1 429.9 L551.2 431.1 L553.4 432.1" fill="none" stroke="#24333c" stroke-width="1.40" stroke-linejoin="round" stroke-linecap="round" />
<path d="M544.6 116.0 L543.7 118.0 L542.6 120.0 L541.4 122.0 L540.3 123.9 L539.1 125.8 L537.8 127.7 L536.6 129.6 L535.3 131.4 L534.1 133.3 L532.8 135.1 L531.5 137.0 L530.2 138.8 L529.0 140.7 L527.7 142.5 L526.5 144.3 L525.2 146.1 L524.0 148.0 L522.8 149.8 L521.6 151.6 L520.5 153.5 L519.3 155.3 L518.2 157.2 L517.0 159.0 L515.9 160.9 L514.8 162.8 L513.7 164.6 L512.7 166.5 L511.6 168.4 L510.6 170.3 L509.6 172.2 L508.6 174.1 L507.6 176.0 L506.6 177.9 L505.6 179.9 L504.7 181.8 L503.8 183.8 L502.8 185.7 L501.9 187.7 L501.0 189.7 L500.2 191.7 L499.3 193.7 L498.5 195.7 L497.6 197.7 L496.8 199.8 L496.0 201.8 L495.2 203.9 L494.5 205.9 L493.7 208.0 L493.0 210.1 L492.3 212.2 L491.6 214.3 L490.9 216.4 L490.2 218.5 L489.6 220.6 L489.0 222.7 L488.4 224.8 L487.8 227.0 L487.3 229.1 L486.8 231.2 L486.3 233.4 L485.8 235.5 L485.3 237.6 L484.9 239.8 L484.5 241.9 L484.1 244.1 L483.8 246.2 L483.5 248.4 L483.2 250.5 L482.9 252.7 L482.7 254.8 L482.5 257.0 L482.3 259.1 L482.1 261.3 L482.0 263.4 L481.9 265.5 L481.9 267.7 L481.8 269.8 L481.9 271.9 L481.9 274.0 L482.0 276.2 L482.1 278.3 L482.2 280.4 L482.4 282.5 L482.6 284.6 L482.8 286.7 L483.1 288.7 L483.4 290.8 L483.8 292.9 L484.2 295.0 L484.6 297.1 L485.0 299.1 L485.5 301.2 L486.0 303.3 L486.5 305.3 L487.1 307.4 L487.7 309.4 L488.3 311.5 L488.9 313.6 L489.6 315.6 L490.3 317.6 L491.0 319.7 L491.7 321.7 L492.5 323.8 L493.3 325.8 L494.1 327.8 L494.9 329.9 L495.7 331.9 L496.6 333.9 L497.4 335.9 L498.3 338.0 L499.2 340.0 L500.2 342.0 L501.1 344.0 L502.0 346.0 L503.0 348.0 L504.0 350.0 L505.0 352.0 L505.9 354.0 L506.9 356.0 L508.0 358.0 L509.0 359.9 L510.0 361.9 L511.0 363.9 L512.0 365.9 L513.1 367.8 L514.1 369.8 L515.2 371.7 L516.2 373.7 L517.3 375.6 L518.3 377.5 L519.4 379.4 L520.5 381.3 L521.6 383.2 L522.7 385.1 L523.8 387.0 L525.0 388.8 L526.1 390.7 L527.3 392.5 L528.5 394.3 L529.7 396.2 L530.9 398.0 L532.1 399.7 L533.3 401.5 L534.6 403.3 L535.9 405.0 L537.2 406.7 L538.5 408.5 L539.8 410.1 L541.2 411.8 L542.6 413.4 L544.0 415.1 L545.5 416.6 L547.0 418.2 L548.5 419.7 L550.1 421.2 L551.7 422.6 L553.3 424.0 L555.0 425.4 L556.7 426.9" fill="none" stroke="#24333c" stroke-width="1.40" stroke-linejoin="round" stroke-linecap="round" />
<path d="M541.9 114.3 L540.4 115.9 L539.1 117.7 L537.7 119.4 L536.3 121.2 L535.0 122.9 L533.6 124.6 L532.2 126.4 L530.8 128.1 L529.4 129.9 L528.0 131.6 L526.6 133.4 L525.2 135.1 L523.8 136.9 L522.5 138.6 L521.1 140.4 L519.7 142.2 L518.4 144.0 L517.0 145.8 L515.7 147.6 L514.4 149.4 L513.1 151.3 L511.9 153.1 L510.6 155.0 L509.4 156.8 L508.2 158.7 L507.0 160.6 L505.8 162.4 L504.6 164.3 L503.5 166.2 L502.3 168.1 L501.2 170.1 L500.1 172.0 L499.0 174.0 L498.0 175.9 L496.9 177.9 L495.9 179.9 L494.9 181.9 L493.9 183.9 L492.9 185.9 L491.9 187.9 L491.0 190.0 L490.0 192.0 L489.1 194.1 L488.2 196.2 L487.3 198.3 L486.4 200.4 L485.6 202.5 L484.7 204.7 L483.9 206.8 L483.1 209.0 L482.4 211.2 L481.6 213.3 L480.9 215.5 L480.2 217.7 L479.5 219.9 L478.8 222.1 L478.2 224.3 L477.6 226.6 L477.0 228.8 L476.5 231.1 L475.9 233.3 L475.4 235.5 L474.9 237.8 L474.5 240.1 L474.1 242.3 L473.7 244.6 L473.3 246.9 L473.0 249.2 L472.7 251.4 L472.4 253.7 L472.2 256.0 L472.0 258.3 L471.8 260.6 L471.7 262.9 L471.6 265.2 L471.5 267.5 L471.5 269.7 L471.5 272.0 L471.5 274.3 L471.6 276.6 L471.7 278.9 L471.8 281.2 L472.0 283.4 L472.3 285.7 L472.5 288.0 L472.9 290.2 L473.2 292.5 L473.6 294.7 L474.0 297.0 L474.5 299.2 L475.0 301.4 L475.5 303.6 L476.1 305.8 L476.7 308.0 L477.3 310.2 L477.9 312.4 L478.6 314.5 L479.3 316.7 L480.0 318.8 L480.8 321.0 L481.6 323.1 L482.4 325.2 L483.2 327.4 L484.1 329.5 L484.9 331.6 L485.8 333.7 L486.8 335.8 L487.7 337.8 L488.6 339.9 L489.6 342.0 L490.6 344.0 L491.6 346.1 L492.6 348.1 L493.6 350.1 L494.7 352.2 L495.7 354.2 L496.8 356.2 L497.8 358.2 L498.9 360.2 L500.0 362.2 L501.1 364.2 L502.2 366.1 L503.3 368.1 L504.4 370.0 L505.5 372.0 L506.7 373.9 L507.8 375.9 L509.0 377.8 L510.1 379.7 L511.3 381.7 L512.5 383.6 L513.7 385.5 L514.9 387.4 L516.1 389.2 L517.4 391.1 L518.6 393.0 L519.9 394.8 L521.2 396.6 L522.5 398.5 L523.8 400.3 L525.2 402.1 L526.5 403.8 L527.9 405.6 L529.3 407.3 L530.8 409.1 L532.3 410.8 L533.7 412.5 L535.3 414.1 L536.8 415.8 L538.4 417.4 L540.1 419.0 L541.7 420.5 L543.5 422.0 L545.2 423.5 L547.1 424.8 L548.9 426.2 L550.9 427.4 L552.9 428.6 L555.0 429.6" fill="none" stroke="#24333c" stroke-width="1.40" stroke-linejoin="round" stroke-linecap="round" />
</g>
<g clip-path="url(#cring)">
<path d="M171.3 318.7 L173.2 318.1 L175.2 317.5 L177.2 317.0 L179.2 316.4 L181.2 315.9 L183.2 315.4 L185.2 314.9 L187.2 314.4 L189.2 313.9 L191.2 313.5 L193.3 313.1 L195.3 312.6 L197.3 312.2 L199.4 311.8 L201.4 311.4 L203.5 311.0 L205.6 310.7 L207.6 310.3 L209.7 310.0 L211.8 309.7 L213.9 309.4 L216.0 309.1 L218.0 308.8 L220.1 308.5 L222.2 308.3 L224.3 308.0 L226.4 307.8 L228.5 307.6 L230.7 307.4 L232.8 307.2 L234.9 307.0 L237.0 306.9 L239.1 306.7 L241.2 306.6 L243.3 306.5 L245.5 306.4 L247.6 306.3 L249.7 306.3 L251.8 306.2 L254.0 306.2 L256.1 306.2 L258.2 306.2 L260.3 306.2 L262.5 306.2 L264.6 306.3 L266.7 306.4 L268.9 306.5 L271.0 306.6 L273.1 306.8 L275.2 307.0 L277.3 307.2 L279.4 307.4 L281.6 307.7 L283.7 308.0 L285.8 308.3 L287.9 308.6 L290.0 308.9 L292.1 309.3 L294.1 309.6 L296.2 310.0 L298.3 310.4 L300.4 310.9 L302.5 311.3 L304.5 311.8 L306.6 312.2 L308.7 312.7 L310.7 313.3 L312.8 313.8 L314.8 314.4 L316.8 315.0 L318.9 315.6 L320.9 316.2 L322.9 316.8 L324.9 317.5 L326.9 318.2 L328.9 318.9 L330.9 319.6 L332.9 320.4 L334.9 321.1 L336.9 321.9 L338.8 322.7 L340.8 323.6 L342.7 324.4 L344.6 325.3 L346.6 326.2 L348.5 327.2 L350.4 328.1 L352.3 329.1 L354.2 330.0 L356.0 331.1 L357.9 332.1 L359.8 333.1 L361.6 334.2 L363.4 335.3 L365.3 336.4 L367.1 337.5 L368.9 338.6 L370.6 339.8 L372.4 341.0 L374.2 342.2 L375.9 343.4 L377.7 344.6 L379.4 345.9 L381.1 347.1 L382.8 348.4 L384.5 349.7 L386.2 351.0 L387.9 352.4 L389.5 353.7 L391.2 355.1 L392.8 356.5 L394.4 357.9 L396.0 359.3 L397.6 360.7 L399.2 362.1 L400.8 363.6 L402.3 365.1 L403.9 366.5 L405.4 368.0 L406.9 369.5 L408.4 371.1 L409.9 372.6 L411.4 374.2 L412.8 375.7 L414.3 377.3 L415.7 378.9 L417.1 380.5 L418.5 382.1 L419.9 383.7 L421.3 385.3 L422.7 387.0 L424.0 388.6 L425.3 390.3 L426.6 392.0 L427.9 393.7 L429.2 395.4 L430.5 397.1 L431.8 398.8 L433.0 400.5 L434.2 402.3 L435.4 404.0 L436.6 405.8 L437.8 407.5 L439.0 409.3 L440.1 411.1 L441.2 412.9 L442.4 414.7 L443.4 416.5 L444.5 418.3 L445.6 420.1 L446.6 422.0 L447.7 423.8 L448.7 425.7 L449.7 427.5 L450.7 429.4 L451.6 431.2 L452.6 433.1 L453.5 435.0 L454.4 436.8 L441.4 443.1 L440.6 441.3 L439.7 439.6 L438.8 437.8 L437.9 436.1 L436.9 434.3 L436.0 432.6 L435.0 430.9 L434.1 429.1 L433.1 427.4 L432.1 425.7 L431.0 424.0 L430.0 422.3 L428.9 420.6 L427.9 418.9 L426.8 417.3 L425.7 415.6 L424.6 413.9 L423.4 412.3 L422.3 410.6 L421.1 409.0 L420.0 407.4 L418.8 405.8 L417.6 404.2 L416.3 402.6 L415.1 401.0 L413.9 399.4 L412.6 397.9 L411.3 396.3 L410.0 394.8 L408.7 393.2 L407.4 391.7 L406.1 390.2 L404.8 388.7 L403.4 387.2 L402.0 385.7 L400.7 384.3 L399.3 382.8 L397.9 381.4 L396.5 380.0 L395.0 378.6 L393.6 377.2 L392.1 375.8 L390.7 374.4 L389.2 373.1 L387.7 371.7 L386.2 370.4 L384.7 369.1 L383.2 367.8 L381.7 366.5 L380.1 365.2 L378.6 364.0 L377.0 362.7 L375.4 361.5 L373.8 360.3 L372.2 359.1 L370.6 358.0 L369.0 356.8 L367.4 355.7 L365.7 354.5 L364.1 353.4 L362.4 352.3 L360.8 351.3 L359.1 350.2 L357.4 349.2 L355.7 348.1 L354.0 347.1 L352.3 346.2 L350.6 345.2 L348.9 344.2 L347.1 343.3 L345.4 342.4 L343.7 341.5 L341.9 340.6 L340.1 339.8 L338.3 338.9 L336.6 338.1 L334.8 337.3 L333.0 336.6 L331.2 335.8 L329.3 335.1 L327.5 334.4 L325.7 333.7 L323.8 333.0 L322.0 332.3 L320.1 331.7 L318.3 331.1 L316.4 330.5 L314.5 329.9 L312.6 329.4 L310.7 328.8 L308.8 328.3 L306.9 327.8 L305.0 327.3 L303.1 326.8 L301.2 326.4 L299.3 325.9 L297.3 325.5 L295.4 325.1 L293.4 324.8 L291.5 324.4 L289.5 324.1 L287.6 323.7 L285.6 323.4 L283.6 323.1 L281.6 322.8 L279.7 322.6 L277.7 322.3 L275.7 322.1 L273.7 321.9 L271.7 321.7 L269.7 321.5 L267.7 321.3 L265.7 321.1 L263.7 320.9 L261.7 320.7 L259.7 320.6 L257.7 320.4 L255.7 320.3 L253.6 320.1 L251.6 320.0 L249.6 319.9 L247.6 319.9 L245.6 319.8 L243.5 319.7 L241.5 319.7 L239.5 319.7 L237.4 319.7 L235.4 319.7 L233.4 319.7 L231.3 319.7 L229.3 319.8 L227.3 319.8 L225.2 319.9 L223.2 320.0 L221.2 320.1 L219.1 320.2 L217.1 320.3 L215.1 320.4 L213.0 320.6 L211.0 320.7 L209.0 320.9 L206.9 321.1 L204.9 321.3 L202.9 321.5 L200.9 321.7 L198.9 321.9 L196.8 322.1 L194.8 322.4 L192.8 322.6 L190.8 322.9 L188.8 323.2 L186.8 323.5 L184.8 323.8 L182.8 324.1 L180.8 324.4 L178.8 324.7 L176.9 325.0 L174.9 325.3 L172.9 325.6 Z" fill="#fff" stroke="none"/>
<path d="M171.3 318.7 L173.2 318.1 L175.2 317.5 L177.2 317.0 L179.2 316.4 L181.2 315.9 L183.2 315.4 L185.2 314.9 L187.2 314.4 L189.2 313.9 L191.2 313.5 L193.3 313.1 L195.3 312.6 L197.3 312.2 L199.4 311.8 L201.4 311.4 L203.5 311.0 L205.6 310.7 L207.6 310.3 L209.7 310.0 L211.8 309.7 L213.9 309.4 L216.0 309.1 L218.0 308.8 L220.1 308.5 L222.2 308.3 L224.3 308.0 L226.4 307.8 L228.5 307.6 L230.7 307.4 L232.8 307.2 L234.9 307.0 L237.0 306.9 L239.1 306.7 L241.2 306.6 L243.3 306.5 L245.5 306.4 L247.6 306.3 L249.7 306.3 L251.8 306.2 L254.0 306.2 L256.1 306.2 L258.2 306.2 L260.3 306.2 L262.5 306.2 L264.6 306.3 L266.7 306.4 L268.9 306.5 L271.0 306.6 L273.1 306.8 L275.2 307.0 L277.3 307.2 L279.4 307.4 L281.6 307.7 L283.7 308.0 L285.8 308.3 L287.9 308.6 L290.0 308.9 L292.1 309.3 L294.1 309.6 L296.2 310.0 L298.3 310.4 L300.4 310.9 L302.5 311.3 L304.5 311.8 L306.6 312.2 L308.7 312.7 L310.7 313.3 L312.8 313.8 L314.8 314.4 L316.8 315.0 L318.9 315.6 L320.9 316.2 L322.9 316.8 L324.9 317.5 L326.9 318.2 L328.9 318.9 L330.9 319.6 L332.9 320.4 L334.9 321.1 L336.9 321.9 L338.8 322.7 L340.8 323.6 L342.7 324.4 L344.6 325.3 L346.6 326.2 L348.5 327.2 L350.4 328.1 L352.3 329.1 L354.2 330.0 L356.0 331.1 L357.9 332.1 L359.8 333.1 L361.6 334.2 L363.4 335.3 L365.3 336.4 L367.1 337.5 L368.9 338.6 L370.6 339.8 L372.4 341.0 L374.2 342.2 L375.9 343.4 L377.7 344.6 L379.4 345.9 L381.1 347.1 L382.8 348.4 L384.5 349.7 L386.2 351.0 L387.9 352.4 L389.5 353.7 L391.2 355.1 L392.8 356.5 L394.4 357.9 L396.0 359.3 L397.6 360.7 L399.2 362.1 L400.8 363.6 L402.3 365.1 L403.9 366.5 L405.4 368.0 L406.9 369.5 L408.4 371.1 L409.9 372.6 L411.4 374.2 L412.8 375.7 L414.3 377.3 L415.7 378.9 L417.1 380.5 L418.5 382.1 L419.9 383.7 L421.3 385.3 L422.7 387.0 L424.0 388.6 L425.3 390.3 L426.6 392.0 L427.9 393.7 L429.2 395.4 L430.5 397.1 L431.8 398.8 L433.0 400.5 L434.2 402.3 L435.4 404.0 L436.6 405.8 L437.8 407.5 L439.0 409.3 L440.1 411.1 L441.2 412.9 L442.4 414.7 L443.4 416.5 L444.5 418.3 L445.6 420.1 L446.6 422.0 L447.7 423.8 L448.7 425.7 L449.7 427.5 L450.7 429.4 L451.6 431.2 L452.6 433.1 L453.5 435.0 L454.4 436.8" fill="none" stroke="#24333c" stroke-width="1.40" stroke-linejoin="round" stroke-linecap="round" />
<path d="M172.9 325.6 L174.9 325.3 L176.9 325.0 L178.8 324.7 L180.8 324.4 L182.8 324.1 L184.8 323.8 L186.8 323.5 L188.8 323.2 L190.8 322.9 L192.8 322.6 L194.8 322.4 L196.8 322.1 L198.9 321.9 L200.9 321.7 L202.9 321.5 L204.9 321.3 L206.9 321.1 L209.0 320.9 L211.0 320.7 L213.0 320.6 L215.1 320.4 L217.1 320.3 L219.1 320.2 L221.2 320.1 L223.2 320.0 L225.2 319.9 L227.3 319.8 L229.3 319.8 L231.3 319.7 L233.4 319.7 L235.4 319.7 L237.4 319.7 L239.5 319.7 L241.5 319.7 L243.5 319.7 L245.6 319.8 L247.6 319.9 L249.6 319.9 L251.6 320.0 L253.6 320.1 L255.7 320.3 L257.7 320.4 L259.7 320.6 L261.7 320.7 L263.7 320.9 L265.7 321.1 L267.7 321.3 L269.7 321.5 L271.7 321.7 L273.7 321.9 L275.7 322.1 L277.7 322.3 L279.7 322.6 L281.6 322.8 L283.6 323.1 L285.6 323.4 L287.6 323.7 L289.5 324.1 L291.5 324.4 L293.4 324.8 L295.4 325.1 L297.3 325.5 L299.3 325.9 L301.2 326.4 L303.1 326.8 L305.0 327.3 L306.9 327.8 L308.8 328.3 L310.7 328.8 L312.6 329.4 L314.5 329.9 L316.4 330.5 L318.3 331.1 L320.1 331.7 L322.0 332.3 L323.8 333.0 L325.7 333.7 L327.5 334.4 L329.3 335.1 L331.2 335.8 L333.0 336.6 L334.8 337.3 L336.6 338.1 L338.3 338.9 L340.1 339.8 L341.9 340.6 L343.7 341.5 L345.4 342.4 L347.1 343.3 L348.9 344.2 L350.6 345.2 L352.3 346.2 L354.0 347.1 L355.7 348.1 L357.4 349.2 L359.1 350.2 L360.8 351.3 L362.4 352.3 L364.1 353.4 L365.7 354.5 L367.4 355.7 L369.0 356.8 L370.6 358.0 L372.2 359.1 L373.8 360.3 L375.4 361.5 L377.0 362.7 L378.6 364.0 L380.1 365.2 L381.7 366.5 L383.2 367.8 L384.7 369.1 L386.2 370.4 L387.7 371.7 L389.2 373.1 L390.7 374.4 L392.1 375.8 L393.6 377.2 L395.0 378.6 L396.5 380.0 L397.9 381.4 L399.3 382.8 L400.7 384.3 L402.0 385.7 L403.4 387.2 L404.8 388.7 L406.1 390.2 L407.4 391.7 L408.7 393.2 L410.0 394.8 L411.3 396.3 L412.6 397.9 L413.9 399.4 L415.1 401.0 L416.3 402.6 L417.6 404.2 L418.8 405.8 L420.0 407.4 L421.1 409.0 L422.3 410.6 L423.4 412.3 L424.6 413.9 L425.7 415.6 L426.8 417.3 L427.9 418.9 L428.9 420.6 L430.0 422.3 L431.0 424.0 L432.1 425.7 L433.1 427.4 L434.1 429.1 L435.0 430.9 L436.0 432.6 L436.9 434.3 L437.9 436.1 L438.8 437.8 L439.7 439.6 L440.6 441.3 L441.4 443.1" fill="none" stroke="#24333c" stroke-width="1.40" stroke-linejoin="round" stroke-linecap="round" />
<path d="M172.0 321.7 L173.9 321.0 L175.8 320.5 L177.8 319.9 L179.8 319.4 L181.8 318.8 L183.7 318.3 L185.7 317.8 L187.7 317.4 L189.7 316.9 L191.7 316.4 L193.8 316.0 L195.8 315.6 L197.8 315.2 L199.8 314.8 L201.9 314.4 L203.9 314.0 L206.0 313.6 L208.0 313.3 L210.1 313.0 L212.1 312.6 L214.2 312.3 L216.3 312.0 L218.3 311.8 L220.4 311.5 L222.5 311.2 L224.6 311.0 L226.6 310.8 L228.7 310.6 L230.8 310.4 L232.9 310.2 L235.0 310.0 L237.1 309.9 L239.2 309.7 L241.3 309.6 L243.4 309.5 L245.5 309.4 L247.6 309.3 L249.7 309.3 L251.8 309.2 L253.9 309.2 L256.0 309.2 L258.1 309.2 L260.2 309.2 L262.3 309.2 L264.4 309.3 L266.5 309.4 L268.6 309.5 L270.7 309.6 L272.8 309.8 L274.9 310.0 L277.0 310.2 L279.1 310.4 L281.2 310.7 L283.3 311.0 L285.3 311.2 L287.4 311.6 L289.5 311.9 L291.5 312.2 L293.6 312.6 L295.7 313.0 L297.7 313.4 L299.8 313.8 L301.8 314.2 L303.9 314.7 L305.9 315.2 L307.9 315.7 L310.0 316.2 L312.0 316.7 L314.0 317.3 L316.0 317.8 L318.0 318.4 L320.0 319.0 L322.0 319.7 L324.0 320.3 L325.9 321.0 L327.9 321.7 L329.9 322.4 L331.8 323.2 L333.8 323.9 L335.7 324.7 L337.6 325.5 L339.6 326.3 L341.5 327.2 L343.4 328.1 L345.3 328.9 L347.2 329.8 L349.0 330.8 L350.9 331.7 L352.8 332.7 L354.6 333.7 L356.4 334.7 L358.3 335.7 L360.1 336.8 L361.9 337.8 L363.7 338.9 L365.5 340.0 L367.2 341.2 L369.0 342.3 L370.8 343.5 L372.5 344.7 L374.2 345.9 L375.9 347.1 L377.6 348.3 L379.3 349.6 L381.0 350.8 L382.7 352.1 L384.3 353.4 L386.0 354.7 L387.6 356.0 L389.2 357.4 L390.9 358.8 L392.5 360.1 L394.0 361.5 L395.6 362.9 L397.2 364.3 L398.7 365.8 L400.3 367.2 L401.8 368.7 L403.3 370.2 L404.8 371.7 L406.3 373.2 L407.7 374.7 L409.2 376.2 L410.6 377.8 L412.1 379.3 L413.5 380.9 L414.9 382.5 L416.3 384.0 L417.6 385.7 L419.0 387.3 L420.3 388.9 L421.7 390.5 L423.0 392.2 L424.3 393.8 L425.6 395.5 L426.8 397.2 L428.1 398.9 L429.3 400.6 L430.6 402.3 L431.8 404.0 L433.0 405.7 L434.1 407.5 L435.3 409.2 L436.5 411.0 L437.6 412.7 L438.7 414.5 L439.8 416.3 L440.9 418.1 L441.9 419.9 L443.0 421.7 L444.0 423.5 L445.0 425.3 L446.0 427.1 L447.0 428.9 L448.0 430.8 L448.9 432.6 L449.9 434.5 L450.8 436.3 L451.7 438.2" fill="none" stroke="#24333c" stroke-width="1.40" stroke-linejoin="round" stroke-linecap="round" />
<path d="M172.2 322.6 L174.2 322.4 L176.2 322.0 L178.2 321.7 L180.2 321.4 L182.2 321.1 L184.2 320.8 L186.2 320.5 L188.3 320.2 L190.3 320.0 L192.3 319.7 L194.3 319.4 L196.4 319.2 L198.4 319.0 L200.4 318.7 L202.5 318.5 L204.5 318.3 L206.6 318.1 L208.6 317.9 L210.6 317.8 L212.7 317.6 L214.7 317.5 L216.8 317.3 L218.8 317.2 L220.9 317.1 L222.9 317.0 L225.0 316.9 L227.1 316.8 L229.1 316.8 L231.2 316.7 L233.2 316.7 L235.3 316.7 L237.3 316.7 L239.4 316.7 L241.4 316.7 L243.5 316.7 L245.5 316.8 L247.6 316.9 L249.6 316.9 L251.7 317.0 L253.7 317.1 L255.8 317.3 L257.8 317.4 L259.8 317.6 L261.9 317.7 L263.9 317.9 L265.9 318.1 L267.9 318.3 L270.0 318.5 L272.0 318.7 L274.0 318.9 L276.0 319.1 L278.0 319.4 L280.0 319.6 L282.0 319.9 L284.0 320.2 L286.0 320.4 L288.0 320.8 L290.0 321.1 L292.0 321.4 L294.0 321.8 L296.0 322.2 L297.9 322.6 L299.9 323.0 L301.9 323.5 L303.8 323.9 L305.8 324.4 L307.7 324.9 L309.6 325.4 L311.6 325.9 L313.5 326.5 L315.4 327.0 L317.3 327.6 L319.2 328.2 L321.1 328.9 L323.0 329.5 L324.9 330.2 L326.7 330.9 L328.6 331.6 L330.5 332.3 L332.3 333.0 L334.1 333.8 L336.0 334.6 L337.8 335.4 L339.6 336.2 L341.4 337.1 L343.2 337.9 L345.0 338.8 L346.8 339.7 L348.5 340.7 L350.3 341.6 L352.1 342.6 L353.8 343.5 L355.5 344.5 L357.3 345.6 L359.0 346.6 L360.7 347.7 L362.4 348.7 L364.1 349.8 L365.8 350.9 L367.4 352.1 L369.1 353.2 L370.8 354.3 L372.4 355.5 L374.0 356.7 L375.6 357.9 L377.2 359.1 L378.8 360.4 L380.4 361.6 L382.0 362.9 L383.6 364.2 L385.1 365.5 L386.7 366.8 L388.2 368.1 L389.7 369.5 L391.2 370.9 L392.7 372.2 L394.2 373.6 L395.7 375.0 L397.1 376.4 L398.6 377.9 L400.0 379.3 L401.4 380.8 L402.8 382.2 L404.2 383.7 L405.6 385.2 L407.0 386.7 L408.4 388.2 L409.7 389.7 L411.0 391.3 L412.3 392.8 L413.6 394.4 L414.9 396.0 L416.2 397.6 L417.5 399.1 L418.7 400.8 L420.0 402.4 L421.2 404.0 L422.4 405.6 L423.6 407.3 L424.7 408.9 L425.9 410.6 L427.0 412.3 L428.2 413.9 L429.3 415.6 L430.4 417.3 L431.5 419.0 L432.5 420.7 L433.6 422.5 L434.6 424.2 L435.7 425.9 L436.7 427.7 L437.7 429.4 L438.6 431.2 L439.6 432.9 L440.5 434.7 L441.4 436.5 L442.4 438.2 L443.2 440.0 L444.1 441.8" fill="none" stroke="#24333c" stroke-width="1.40" stroke-linejoin="round" stroke-linecap="round" />
</g>
<g clip-path="url(#cring)"><path d="M222.0 423.6 L225.1 423.9 L228.2 424.2 L231.3 424.6 L234.3 424.9 L237.4 425.2 L240.5 425.5 L243.6 425.8 L246.7 426.1 L249.8 426.4 L252.9 426.7 L255.9 427.0 L259.0 427.2 L262.1 427.5 L265.2 427.8 L268.3 428.0 L271.4 428.3 L274.5 428.5 L277.6 428.7 L280.7 429.0 L283.8 429.2 L286.9 429.4 L290.0 429.6 L293.1 429.8 L296.2 430.0 L299.2 430.2 L302.3 430.4 L305.4 430.6 L308.5 430.7 L311.6 430.9 L314.7 431.1 L317.8 431.2 L320.9 431.3 L324.0 431.5 L327.1 431.6 L330.2 431.7 L333.3 431.9 L336.4 432.0 L339.5 432.1 L342.6 432.2 L345.7 432.3 L348.8 432.4 L351.9 432.4 L355.0 432.5 L358.1 432.6 L361.2 432.6 L364.3 432.7 L367.4 432.7 L370.5 432.8 L373.6 432.8 L376.7 432.8 L379.8 432.8 L382.9 432.9 L386.0 432.9 L389.1 432.9 L392.2 432.9 L395.3 432.8 L398.4 432.8 L401.5 432.8 L404.6 432.8 L407.7 432.7 L410.8 432.7 L413.9 432.6 L417.1 432.6 L420.2 432.5 L423.3 432.4 L426.4 432.3 L429.5 432.2 L432.6 432.1 L435.7 432.0 L438.8 431.9 L441.8 431.8 L444.9 431.7 L448.0 431.6 L451.1 431.4 L454.2 431.3 L457.3 431.1 L460.4 431.0 L463.5 430.8 L466.6 430.6 L469.7 430.5 L472.8 430.3 L475.9 430.1 L479.0 429.9 L482.1 429.7 L485.2 429.5 L488.3 429.3 L491.4 429.0 L494.5 428.8 L497.6 428.6 L500.7 428.3 L503.8 428.1 L506.8 427.8 L509.9 427.5 L513.0 427.3 L516.1 427.0 L519.2 426.7 L522.3 426.4 L525.4 426.1 L528.5 425.8 L531.5 425.5 L534.6 425.2 L537.7 424.8 L540.8 424.5 L543.9 424.1 L547.0 423.8 L550.0 423.4 L553.1 423.1 L556.2 422.7 L559.3 422.3 L562.4 421.9 L565.4 421.5 L568.5 421.1 L571.6 420.7 L574.7 420.3 L577.7 419.9 L580.8 419.5 L583.9 419.0 L587.0 418.6 L590.0 418.1 L620.0 418.0 L620.0 470.0 L226.0 470.0 L222.0 426.0 Z" fill="url(#mesh)" stroke="#24333c" stroke-width="1.1"/>
<path d="M339.5 433.1 L342.6 433.2 L345.7 433.3 L348.8 433.4 L351.9 433.4 L355.0 433.5 L358.1 433.6 L361.2 433.6 L364.3 433.7 L367.4 433.7 L370.5 433.8 L373.6 433.8 L376.7 433.8 L379.8 433.8 L382.9 433.9 L386.0 433.9 L389.1 433.9 L392.2 433.9 L395.3 433.8 L398.5 433.8 L401.6 433.8 L404.7 433.8 L407.8 433.7 L410.9 433.7 L414.0 433.6 L417.1 433.6 L420.2 433.5 L423.3 433.4 L426.4 433.3 L429.5 433.2 L432.6 433.1 L435.7 433.0 L438.8 432.9 L441.9 432.8 L445.0 432.7 L448.1 432.6 L451.2 432.4" fill="none" stroke="#24333c" stroke-width="2.80" stroke-linejoin="round" stroke-linecap="round" />
<path d="M338.8 439.7 L341.6 439.9 L344.3 440.0 L347.1 440.1 L349.8 440.3 L352.5 440.4 L355.3 440.5 L358.0 440.7 L360.7 440.8 L363.5 440.9 L366.2 441.0 L368.9 441.1 L371.7 441.2 L374.4 441.3 L377.1 441.4 L379.9 441.5 L382.6 441.6 L385.3 441.6 L388.1 441.7 L390.8 441.8 L393.5 441.8 L396.3 441.9 L399.0 441.9 L401.7 441.9 L404.4 442.0 L407.2 442.0 L409.9 442.0 L412.6 442.0 L415.4 442.0 L418.1 442.0 L420.8 442.0 L423.5 442.0 L426.3 441.9 L429.0 441.9 L431.7 441.9 L434.4 441.8 L437.1 441.7 L439.9 441.7 L442.6 441.6 L445.3 441.5 L448.0 441.4 L450.7 441.3" fill="none" stroke="#24333c" stroke-width="2.60" stroke-linejoin="round" stroke-linecap="round" />
</g>
<path d="M346.3 438.6 C348 436.2 352 434.9 358 434.9 L434 434.9 C440 434.9 444.3 436.4 445.7 438.6 C443 441 437 442 430 442 L362 442 C354 442 348.5 441 346.3 438.6 Z" fill="#fff" stroke="#24333c" stroke-width="1.2"/>
<path d="M378.3 441.8 L380.4 437.4 Q381 436 382.6 436 L409.4 436 Q411 436 411.6 437.4 L413.7 441.8 Z" fill="#fff" stroke="#24333c" stroke-width="1.5" stroke-linejoin="round"/>
<g clip-path="url(#cring)">
<path d="M218.4 423.0 L218.5 420.4 L218.6 417.9 L218.6 415.4 L218.7 412.8 L218.7 410.3 L218.7 407.7 L218.8 405.2 L218.8 402.6 L218.8 400.1 L218.8 397.5 L218.8 395.0 L218.8 392.4 L218.8 389.9 L218.8 387.3 L218.8 384.8 L218.8 382.2 L218.7 379.7 L218.7 377.1 L218.7 374.6 L218.7 372.0 L218.6 369.5 L218.6 366.9 L218.6 364.4 L218.5 361.8 L218.5 359.3 L218.5 356.7 L218.4 354.2 L218.4 351.6 L218.4 349.1 L218.3 346.5 L218.3 344.0 L218.3 341.4 L218.2 338.9 L218.2 336.3 L218.2 333.7 L218.1 331.2 L218.1 328.6 L218.1 326.1 L218.1 323.5 L218.1 321.0 L218.0 318.4 L218.0 315.9 L218.0 313.3 L218.0 310.8 L218.0 308.2 L218.0 305.7 L218.0 303.1 L218.0 300.6 L218.1 298.0 L218.1 295.5 L218.1 292.9 L218.2 290.4 L218.2 287.8 L218.3 285.3 L218.3 282.7 L218.4 280.2 L218.5 277.6 L218.6 275.1 L218.7 272.5 L218.8 270.0 L218.9 267.4 L219.0 264.9 L219.2 262.4 L219.4 259.8 L219.6 257.3 L219.9 254.8 L220.1 252.2 L220.4 249.7 L220.8 247.2 L221.2 244.7 L221.6 242.2 L222.0 239.7 L222.5 237.2 L223.1 234.7 L223.6 232.2 L224.3 229.8 L224.9 227.3 L225.6 224.8 L226.3 222.4 L227.0 219.9 L227.8 217.5 L228.6 215.1 L229.4 212.6 L230.2 210.2 L231.1 207.8 L231.9 205.4 L232.8 203.0 L233.8 200.6 L234.7 198.2 L235.7 195.9 L236.6 193.5 L237.7 191.2 L238.7 188.8 L239.8 186.5 L240.9 184.2 L242.0 181.9 L243.1 179.7 L244.3 177.4 L245.5 175.2 L246.8 172.9 L248.0 170.7 L249.3 168.6 L250.7 166.4 L252.1 164.2 L253.5 162.1 L254.9 160.0 L256.4 158.0 L257.9 155.9 L259.5 153.9 L261.1 151.9 L262.7 149.9 L264.4 148.0 L266.0 146.1 L267.8 144.2 L269.5 142.4 L271.3 140.6 L273.2 138.8 L275.0 137.1 L276.9 135.4 L278.8 133.7 L280.8 132.1 L282.7 130.4 L284.7 128.9 L286.7 127.3 L288.8 125.8 L290.9 124.3 L292.9 122.9 L295.1 121.4 L297.2 120.0 L299.3 118.7 L301.5 117.3 L303.7 116.0 L305.9 114.7 L308.1 113.5 L310.4 112.3 L312.6 111.1 L314.9 109.9 L317.2 108.8 L319.5 107.7 L321.8 106.6 L324.2 105.5 L326.5 104.5 L328.8 103.5 L331.2 102.5 L333.6 101.5 L336.0 100.6 L338.4 99.7 L340.8 98.8 L343.2 97.9 L345.6 97.1 L348.0 96.3 L350.4 95.5 L352.9 94.7 L355.3 93.9 L357.7 93.2 L360.2 92.5 L362.6 91.8 L365.0 91.1 L367.5 90.5 L375.5 68.6 L422.5 68.6 L430.6 90.4 L433.8 91.1 L437.1 91.8 L440.3 92.5 L443.6 93.4 L446.8 94.3 L450.0 95.3 L453.2 96.3 L456.4 97.4 L459.6 98.5 L462.8 99.7 L465.9 101.0 L469.0 102.3 L472.1 103.7 L475.2 105.1 L478.3 106.6 L481.3 108.2 L484.3 109.8 L487.3 111.4 L490.2 113.2 L493.1 114.9 L496.0 116.7 L498.9 118.6 L501.7 120.5 L504.5 122.5 L507.2 124.5 L509.9 126.6 L512.6 128.7 L515.2 130.9 L517.8 133.1 L520.3 135.4 L522.8 137.7 L525.3 140.0 L527.7 142.4 L530.0 144.8 L532.4 147.3 L534.6 149.8 L536.8 152.4 L538.9 155.0 L541.0 157.7 L543.1 160.3 L545.0 163.1 L547.0 165.8 L548.8 168.6 L550.6 171.5 L552.3 174.3 L554.0 177.2 L555.6 180.2 L557.1 183.1 L558.6 186.2 L560.0 189.2 L561.3 192.3 L562.6 195.4 L563.8 198.5 L565.0 201.6 L566.1 204.8 L567.1 208.0 L568.1 211.2 L569.1 214.5 L570.0 217.7 L570.8 221.0 L571.6 224.3 L572.4 227.6 L573.1 230.9 L573.8 234.2 L574.4 237.6 L575.0 240.9 L575.5 244.3 L576.0 247.7 L576.5 251.1 L576.9 254.4 L577.3 257.8 L577.7 261.2 L578.0 264.6 L578.3 268.0 L578.5 271.4 L578.8 274.8 L579.0 278.2 L579.2 281.6 L579.3 284.9 L579.4 288.3 L579.6 291.7 L579.6 295.1 L579.7 298.5 L579.8 301.8 L579.8 305.2 L579.8 308.6 L579.8 311.9 L579.8 315.3 L579.8 318.7 L579.7 322.1 L579.7 325.4 L579.6 328.8 L579.6 332.2 L579.5 335.5 L579.4 338.9 L579.4 342.3 L579.3 345.6 L579.2 349.0 L579.1 352.4 L579.0 355.7 L579.0 359.1 L578.9 362.5 L578.8 365.9 L578.8 369.2 L578.7 372.6 L578.7 376.0 L578.7 379.4 L578.6 382.7 L578.6 386.1 L578.6 389.5 L578.7 392.9 L578.7 396.3 L578.8 399.6 L578.8 403.0 L578.9 406.4 L579.0 409.8 L579.2 413.2 L579.4 416.6 L579.5 420.0" fill="none" stroke="#24333c" stroke-width="8.1" stroke-linejoin="miter"/>
<path d="M218.4 423.0 L218.5 420.4 L218.6 417.9 L218.6 415.4 L218.7 412.8 L218.7 410.3 L218.7 407.7 L218.8 405.2 L218.8 402.6 L218.8 400.1 L218.8 397.5 L218.8 395.0 L218.8 392.4 L218.8 389.9 L218.8 387.3 L218.8 384.8 L218.8 382.2 L218.7 379.7 L218.7 377.1 L218.7 374.6 L218.7 372.0 L218.6 369.5 L218.6 366.9 L218.6 364.4 L218.5 361.8 L218.5 359.3 L218.5 356.7 L218.4 354.2 L218.4 351.6 L218.4 349.1 L218.3 346.5 L218.3 344.0 L218.3 341.4 L218.2 338.9 L218.2 336.3 L218.2 333.7 L218.1 331.2 L218.1 328.6 L218.1 326.1 L218.1 323.5 L218.1 321.0 L218.0 318.4 L218.0 315.9 L218.0 313.3 L218.0 310.8 L218.0 308.2 L218.0 305.7 L218.0 303.1 L218.0 300.6 L218.1 298.0 L218.1 295.5 L218.1 292.9 L218.2 290.4 L218.2 287.8 L218.3 285.3 L218.3 282.7 L218.4 280.2 L218.5 277.6 L218.6 275.1 L218.7 272.5 L218.8 270.0 L218.9 267.4 L219.0 264.9 L219.2 262.4 L219.4 259.8 L219.6 257.3 L219.9 254.8 L220.1 252.2 L220.4 249.7 L220.8 247.2 L221.2 244.7 L221.6 242.2 L222.0 239.7 L222.5 237.2 L223.1 234.7 L223.6 232.2 L224.3 229.8 L224.9 227.3 L225.6 224.8 L226.3 222.4 L227.0 219.9 L227.8 217.5 L228.6 215.1 L229.4 212.6 L230.2 210.2 L231.1 207.8 L231.9 205.4 L232.8 203.0 L233.8 200.6 L234.7 198.2 L235.7 195.9 L236.6 193.5 L237.7 191.2 L238.7 188.8 L239.8 186.5 L240.9 184.2 L242.0 181.9 L243.1 179.7 L244.3 177.4 L245.5 175.2 L246.8 172.9 L248.0 170.7 L249.3 168.6 L250.7 166.4 L252.1 164.2 L253.5 162.1 L254.9 160.0 L256.4 158.0 L257.9 155.9 L259.5 153.9 L261.1 151.9 L262.7 149.9 L264.4 148.0 L266.0 146.1 L267.8 144.2 L269.5 142.4 L271.3 140.6 L273.2 138.8 L275.0 137.1 L276.9 135.4 L278.8 133.7 L280.8 132.1 L282.7 130.4 L284.7 128.9 L286.7 127.3 L288.8 125.8 L290.9 124.3 L292.9 122.9 L295.1 121.4 L297.2 120.0 L299.3 118.7 L301.5 117.3 L303.7 116.0 L305.9 114.7 L308.1 113.5 L310.4 112.3 L312.6 111.1 L314.9 109.9 L317.2 108.8 L319.5 107.7 L321.8 106.6 L324.2 105.5 L326.5 104.5 L328.8 103.5 L331.2 102.5 L333.6 101.5 L336.0 100.6 L338.4 99.7 L340.8 98.8 L343.2 97.9 L345.6 97.1 L348.0 96.3 L350.4 95.5 L352.9 94.7 L355.3 93.9 L357.7 93.2 L360.2 92.5 L362.6 91.8 L365.0 91.1 L367.5 90.5 L375.5 68.6 L422.5 68.6 L430.6 90.4 L433.8 91.1 L437.1 91.8 L440.3 92.5 L443.6 93.4 L446.8 94.3 L450.0 95.3 L453.2 96.3 L456.4 97.4 L459.6 98.5 L462.8 99.7 L465.9 101.0 L469.0 102.3 L472.1 103.7 L475.2 105.1 L478.3 106.6 L481.3 108.2 L484.3 109.8 L487.3 111.4 L490.2 113.2 L493.1 114.9 L496.0 116.7 L498.9 118.6 L501.7 120.5 L504.5 122.5 L507.2 124.5 L509.9 126.6 L512.6 128.7 L515.2 130.9 L517.8 133.1 L520.3 135.4 L522.8 137.7 L525.3 140.0 L527.7 142.4 L530.0 144.8 L532.4 147.3 L534.6 149.8 L536.8 152.4 L538.9 155.0 L541.0 157.7 L543.1 160.3 L545.0 163.1 L547.0 165.8 L548.8 168.6 L550.6 171.5 L552.3 174.3 L554.0 177.2 L555.6 180.2 L557.1 183.1 L558.6 186.2 L560.0 189.2 L561.3 192.3 L562.6 195.4 L563.8 198.5 L565.0 201.6 L566.1 204.8 L567.1 208.0 L568.1 211.2 L569.1 214.5 L570.0 217.7 L570.8 221.0 L571.6 224.3 L572.4 227.6 L573.1 230.9 L573.8 234.2 L574.4 237.6 L575.0 240.9 L575.5 244.3 L576.0 247.7 L576.5 251.1 L576.9 254.4 L577.3 257.8 L577.7 261.2 L578.0 264.6 L578.3 268.0 L578.5 271.4 L578.8 274.8 L579.0 278.2 L579.2 281.6 L579.3 284.9 L579.4 288.3 L579.6 291.7 L579.6 295.1 L579.7 298.5 L579.8 301.8 L579.8 305.2 L579.8 308.6 L579.8 311.9 L579.8 315.3 L579.8 318.7 L579.7 322.1 L579.7 325.4 L579.6 328.8 L579.6 332.2 L579.5 335.5 L579.4 338.9 L579.4 342.3 L579.3 345.6 L579.2 349.0 L579.1 352.4 L579.0 355.7 L579.0 359.1 L578.9 362.5 L578.8 365.9 L578.8 369.2 L578.7 372.6 L578.7 376.0 L578.7 379.4 L578.6 382.7 L578.6 386.1 L578.6 389.5 L578.7 392.9 L578.7 396.3 L578.8 399.6 L578.8 403.0 L578.9 406.4 L579.0 409.8 L579.2 413.2 L579.4 416.6 L579.5 420.0" fill="none" stroke="#fff" stroke-width="5.0" stroke-linejoin="miter"/>
</g>
<path d="M396.1 66.2 L398.8 66.2 L401.6 66.1 L404.3 66.1 L407.1 66.2 L409.8 66.3 L412.6 66.4 L415.3 66.5 L418.1 66.7 L420.8 66.9 L423.5 67.1 L426.3 67.4 L429.0 67.7 L431.7 68.1 L434.4 68.5 L437.1 68.9 L439.8 69.4 L442.4 69.9 L445.1 70.4 L447.8 71.0 L450.4 71.7 L453.0 72.3 L455.7 73.1 L458.3 73.8 L460.9 74.6 L463.5 75.5 L466.0 76.4 L468.6 77.3 L471.1 78.3 L473.7 79.3 L476.2 80.4 L478.7 81.5 L481.2 82.6 L483.7 83.8 L486.2 85.0 L488.6 86.2 L491.1 87.4 L493.5 88.7 L495.9 90.0 L498.4 91.3 L500.8 92.7 L503.1 94.0 L505.5 95.4 L507.9 96.8 L510.2 98.2 L512.6 99.7 L514.9 101.1 L517.2 102.6 L519.5 104.0 L521.8 105.5 L524.1 107.0 L526.3 108.6 L528.6 110.1 L530.8 111.7 L533.0 113.3 L535.2 114.9 L537.4 116.5 L539.6 118.2 L541.7 119.9 L543.8 121.6 L545.9 123.3 L548.0 125.1 L550.0 126.9 L552.0 128.7 L554.0 130.6 L556.0 132.5 L558.0 134.4 L559.9 136.4 L561.8 138.4 L563.7 140.4 L565.5 142.4 L567.3 144.5 L569.1 146.6 L570.9 148.7 L572.6 150.8 L574.3 153.0 L576.0 155.2 L577.7 157.4 L579.3 159.6 L580.9 161.8 L582.5 164.1 L584.0 166.4 L585.5 168.6 L587.0 171.0 L588.5 173.3 L589.9 175.6 L591.3 178.0 L592.7 180.4 L594.0 182.7 L595.3 185.2 L596.6 187.6 L597.8 190.0 L599.1 192.5 L600.3 194.9 L601.4 197.4 L602.5 199.9 L603.7 202.4 L604.7 204.9 L605.8 207.4 L606.8 210.0 L607.8 212.5 L608.7 215.1 L609.6 217.7 L610.5 220.3 L611.4 222.9 L612.2 225.5 L613.0 228.1 L613.8 230.7 L614.6 233.3 L615.3 236.0 L616.0 238.6 L616.6 241.3 L617.2 243.9 L617.8 246.6 L618.4 249.3 L618.9 252.0 L619.4 254.7 L619.9 257.4 L620.3 260.1 L620.7 262.8 L621.1 265.5 L621.4 268.2 L621.7 270.9 L622.0 273.6 L622.2 276.3 L622.4 279.1 L622.6 281.8 L622.8 284.5 L622.9 287.2 L623.0 290.0 L623.0 292.7 L623.1 295.4 L623.0 298.2 L623.0 300.9 L622.9 303.6 L622.8 306.4 L622.7 309.1 L622.5 311.8 L622.3 314.6 L622.0 317.3 L621.8 320.0 L621.5 322.7 L621.1 325.4 L620.8 328.1 L620.4 330.8 L619.9 333.6 L619.4 336.2 L618.9 338.9 L618.4 341.6 L617.9 344.3 L617.3 347.0 L616.7 349.7 L616.0 352.4 L615.4 355.0 L614.7 357.7 L614.0 360.4 L613.3 363.0 L612.6 365.7 L611.8 368.3 L611.1 371.0 L610.3 373.6 L609.5 376.3 L608.7 378.9 L607.9 381.6 L607.1 384.2 L606.3 386.8 L605.5 389.5 L604.7 392.1 L603.8 394.7 L603.0 397.4 L602.2 400.0 L601.3 402.6 L600.3 405.1 L599.2 407.6 L598.1 410.0 L596.8 412.3 L595.3 414.5 L593.6 416.6 L591.8 418.5 L589.7 420.3 L587.5 422.0 L585.2 423.5 L582.9 424.9 L580.5 426.2 L578.0 427.4 L575.6 428.5 L573.0 429.5 L570.5 430.4 L567.9 431.3 L565.3 432.0 L562.6 432.7 L559.9 433.4 L557.2 433.9 L554.5 434.4 L551.8 434.9 L549.1 435.4 L546.3 435.8 L543.6 436.2 L540.8 436.6 L538.1 436.9 L535.4 437.3 L532.6 437.7 L529.9 438.0 L527.1 438.3 L524.4 438.7 L521.7 439.0 L518.9 439.3 L516.2 439.6 L513.5 439.9 L510.7 440.2 L508.0 440.5 L505.3 440.8 L502.6 441.0 L499.8 441.3 L497.1 441.6 L494.4 441.8 L491.7 442.0 L488.9 442.3 L486.2 442.5 L483.5 442.7 L480.8 442.9 L478.1 443.1 L475.3 443.3 L472.6 443.5 L469.9 443.7 L467.2 443.8 L464.5 444.0 L461.7 444.1 L459.0 444.3 L456.3 444.4 L453.6 444.5 L450.9 444.6 L448.1 444.7 L445.4 444.8 L442.7 444.9 L439.9 445.0 L437.2 445.0 L434.5 445.1 L431.8 445.2 L429.0 445.2 L426.3 445.2 L423.6 445.3 L420.8 445.3 L418.1 445.3 L415.4 445.3 L412.6 445.3 L409.9 445.3 L407.2 445.3 L404.4 445.3 L401.7 445.2 L398.9 445.2 L396.2 445.2 L393.5 445.1 L390.7 445.1 L388.0 445.0 L385.2 444.9 L382.5 444.9 L379.8 444.8 L377.0 444.7 L374.3 444.6 L371.5 444.5 L368.8 444.4 L366.1 444.3 L363.3 444.2 L360.6 444.1 L357.8 444.0 L355.1 443.8 L352.4 443.7 L349.6 443.6 L346.9 443.4 L344.1 443.3 L341.4 443.2 L338.7 443.0 L335.9 442.8 L333.2 442.7 L330.4 442.5 L327.7 442.4 L325.0 442.2 L322.2 442.0 L319.5 441.9 L316.8 441.7 L314.0 441.5 L311.3 441.3 L308.5 441.1 L305.8 440.9 L303.1 440.7 L300.3 440.6 L297.6 440.4 L294.9 440.2 L292.1 440.0 L289.4 439.8 L286.7 439.6 L284.0 439.3 L281.2 439.1 L278.5 438.9 L275.8 438.7 L273.0 438.5 L270.3 438.3 L267.6 438.0 L264.9 437.8 L262.2 437.5 L259.4 437.2 L256.7 436.9 L254.0 436.6 L251.3 436.2 L248.6 435.8 L245.9 435.4 L243.2 434.9 L240.5 434.4 L237.9 433.8 L235.2 433.2 L232.5 432.6 L229.8 431.9 L227.2 431.1 L224.5 430.3 L221.9 429.4 L219.4 428.4 L216.9 427.2 L214.5 426.0 L212.2 424.6 L209.9 423.1 L207.8 421.4 L205.9 419.6 L204.0 417.7 L202.2 415.6 L200.5 413.5 L199.0 411.2 L197.5 408.9 L196.0 406.4 L194.7 404.0 L193.4 401.5 L192.2 399.0 L191.0 396.4 L189.9 393.9 L188.8 391.4 L187.8 388.8 L186.8 386.2 L185.9 383.7 L185.0 381.1 L184.1 378.5 L183.3 375.9 L182.5 373.3 L181.8 370.7 L181.1 368.1 L180.4 365.5 L179.8 362.8 L179.1 360.2 L178.6 357.6 L178.0 354.9 L177.5 352.2 L177.0 349.6 L176.5 346.9 L176.0 344.2 L175.6 341.5 L175.2 338.8 L174.8 336.1 L174.4 333.4 L174.1 330.7 L173.7 327.9 L173.4 325.2 L173.2 322.5 L172.9 319.7 L172.7 317.0 L172.5 314.3 L172.3 311.5 L172.2 308.8 L172.0 306.0 L171.9 303.3 L171.9 300.5 L171.8 297.7 L171.8 295.0 L171.8 292.2 L171.9 289.5 L171.9 286.7 L172.0 284.0 L172.1 281.2 L172.3 278.4 L172.5 275.7 L172.7 273.0 L172.9 270.2 L173.2 267.5 L173.4 264.7 L173.8 262.0 L174.1 259.3 L174.5 256.6 L174.9 253.8 L175.3 251.1 L175.8 248.4 L176.3 245.7 L176.8 243.0 L177.4 240.4 L178.0 237.7 L178.6 235.0 L179.3 232.4 L180.0 229.7 L180.7 227.1 L181.4 224.4 L182.2 221.8 L183.0 219.2 L183.9 216.6 L184.8 214.0 L185.7 211.5 L186.6 208.9 L187.6 206.4 L188.6 203.8 L189.7 201.3 L190.8 198.8 L191.9 196.3 L193.0 193.8 L194.2 191.4 L195.5 188.9 L196.7 186.5 L198.0 184.1 L199.3 181.7 L200.7 179.3 L202.1 177.0 L203.5 174.6 L204.9 172.3 L206.4 170.0 L207.9 167.7 L209.5 165.5 L211.0 163.3 L212.6 161.1 L214.3 158.9 L216.0 156.7 L217.7 154.6 L219.4 152.4 L221.1 150.4 L222.9 148.3 L224.8 146.3 L226.6 144.2 L228.5 142.2 L230.4 140.3 L232.3 138.3 L234.3 136.4 L236.3 134.5 L238.3 132.6 L240.3 130.7 L242.3 128.9 L244.4 127.1 L246.5 125.3 L248.6 123.5 L250.7 121.8 L252.8 120.0 L255.0 118.3 L257.1 116.6 L259.3 114.9 L261.5 113.2 L263.7 111.6 L265.9 110.0 L268.1 108.3 L270.4 106.8 L272.6 105.2 L274.9 103.6 L277.2 102.1 L279.5 100.6 L281.8 99.2 L284.1 97.7 L286.5 96.3 L288.8 94.9 L291.2 93.5 L293.6 92.2 L296.0 90.9 L298.4 89.6 L300.8 88.4 L303.2 87.2 L305.7 86.0 L308.2 84.9 L310.7 83.8 L313.2 82.7 L315.7 81.7 L318.2 80.7 L320.8 79.7 L323.3 78.8 L325.9 77.9 L328.5 77.0 L331.1 76.2 L333.7 75.4 L336.4 74.7 L339.0 74.0 L341.7 73.3 L344.3 72.6 L347.0 72.0 L349.7 71.4 L352.3 70.9 L355.0 70.4 L357.7 69.9 L360.5 69.4 L363.2 69.0 L365.9 68.6 L368.6 68.2 L371.4 67.9 L374.1 67.6 L376.8 67.3 L379.6 67.1 L382.3 66.8 L385.1 66.7 L387.8 66.5 L390.6 66.4 L393.3 66.3 Z" fill="none" stroke="#24333c" stroke-width="2.20" stroke-linejoin="round" stroke-linecap="round" />
<path d="M396.1 68.9 L398.9 68.9 L401.6 68.8 L404.3 68.8 L407.0 68.9 L409.8 69.0 L412.5 69.1 L415.2 69.2 L417.9 69.4 L420.6 69.6 L423.3 69.8 L426.0 70.1 L428.6 70.4 L431.3 70.8 L434.0 71.1 L436.6 71.6 L439.3 72.0 L441.9 72.5 L444.5 73.1 L447.2 73.7 L449.8 74.3 L452.3 74.9 L454.9 75.7 L457.5 76.4 L460.1 77.2 L462.6 78.1 L465.1 78.9 L467.6 79.9 L470.2 80.8 L472.7 81.8 L475.1 82.9 L477.6 84.0 L480.1 85.1 L482.5 86.2 L485.0 87.4 L487.4 88.6 L489.8 89.8 L492.3 91.1 L494.7 92.4 L497.0 93.7 L499.4 95.0 L501.8 96.4 L504.1 97.7 L506.5 99.1 L508.8 100.5 L511.2 102.0 L513.5 103.4 L515.8 104.9 L518.1 106.3 L520.3 107.8 L522.6 109.3 L524.8 110.8 L527.0 112.3 L529.3 113.9 L531.4 115.5 L533.6 117.1 L535.8 118.7 L537.9 120.3 L540.0 122.0 L542.1 123.7 L544.2 125.4 L546.2 127.1 L548.2 128.9 L550.2 130.7 L552.2 132.6 L554.1 134.4 L556.1 136.3 L558.0 138.3 L559.8 140.2 L561.7 142.2 L563.5 144.2 L565.3 146.3 L567.1 148.3 L568.8 150.4 L570.5 152.5 L572.2 154.7 L573.9 156.8 L575.5 159.0 L577.1 161.2 L578.7 163.4 L580.3 165.6 L581.8 167.9 L583.3 170.1 L584.7 172.4 L586.2 174.7 L587.6 177.0 L589.0 179.3 L590.3 181.7 L591.6 184.1 L592.9 186.4 L594.2 188.8 L595.4 191.2 L596.6 193.7 L597.8 196.1 L599.0 198.5 L600.1 201.0 L601.2 203.5 L602.2 206.0 L603.3 208.5 L604.3 211.0 L605.2 213.5 L606.2 216.0 L607.1 218.6 L608.0 221.1 L608.8 223.7 L609.7 226.3 L610.5 228.9 L611.2 231.5 L612.0 234.1 L612.7 236.7 L613.3 239.3 L614.0 241.9 L614.6 244.5 L615.2 247.2 L615.7 249.8 L616.2 252.5 L616.7 255.1 L617.2 257.8 L617.6 260.5 L618.0 263.1 L618.4 265.8 L618.7 268.5 L619.0 271.2 L619.3 273.9 L619.5 276.6 L619.8 279.3 L619.9 282.0 L620.1 284.6 L620.2 287.3 L620.3 290.0 L620.3 292.7 L620.4 295.4 L620.3 298.1 L620.3 300.8 L620.2 303.5 L620.1 306.2 L620.0 308.9 L619.8 311.6 L619.6 314.3 L619.4 317.0 L619.1 319.7 L618.8 322.4 L618.5 325.1 L618.1 327.8 L617.7 330.4 L617.3 333.1 L616.8 335.8 L616.3 338.4 L615.8 341.1 L615.2 343.8 L614.6 346.4 L614.0 349.1 L613.4 351.7 L612.8 354.4 L612.1 357.0 L611.4 359.7 L610.7 362.3 L610.0 365.0 L609.3 367.6 L608.5 370.2 L607.7 372.9 L607.0 375.5 L606.2 378.1 L605.4 380.8 L604.6 383.4 L603.7 386.0 L602.9 388.7 L602.1 391.3 L601.3 393.9 L600.4 396.5 L599.6 399.1 L598.7 401.6 L597.8 404.1 L596.8 406.5 L595.7 408.7 L594.5 410.9 L593.1 412.9 L591.6 414.8 L589.9 416.5 L588.0 418.2 L585.9 419.8 L583.8 421.2 L581.5 422.6 L579.2 423.8 L576.9 425.0 L574.5 426.0 L572.1 427.0 L569.6 427.9 L567.1 428.7 L564.5 429.4 L562.0 430.1 L559.3 430.7 L556.7 431.3 L554.0 431.8 L551.4 432.3 L548.7 432.7 L545.9 433.1 L543.2 433.5 L540.5 433.9 L537.7 434.3 L535.0 434.6 L532.3 435.0 L529.5 435.3 L526.8 435.7 L524.1 436.0 L521.3 436.3 L518.6 436.6 L515.9 436.9 L513.2 437.2 L510.5 437.5 L507.7 437.8 L505.0 438.1 L502.3 438.4 L499.6 438.6 L496.9 438.9 L494.2 439.1 L491.4 439.4 L488.7 439.6 L486.0 439.8 L483.3 440.0 L480.6 440.2 L477.9 440.4 L475.2 440.6 L472.5 440.8 L469.7 441.0 L467.0 441.1 L464.3 441.3 L461.6 441.4 L458.9 441.6 L456.2 441.7 L453.5 441.8 L450.7 441.9 L448.0 442.0 L445.3 442.1 L442.6 442.2 L439.9 442.3 L437.2 442.3 L434.4 442.4 L431.7 442.5 L429.0 442.5 L426.3 442.5 L423.5 442.6 L420.8 442.6 L418.1 442.6 L415.4 442.6 L412.6 442.6 L409.9 442.6 L407.2 442.6 L404.4 442.6 L401.7 442.5 L399.0 442.5 L396.2 442.5 L393.5 442.4 L390.8 442.4 L388.1 442.3 L385.3 442.2 L382.6 442.2 L379.8 442.1 L377.1 442.0 L374.4 441.9 L371.6 441.8 L368.9 441.7 L366.2 441.6 L363.4 441.5 L360.7 441.4 L358.0 441.3 L355.2 441.1 L352.5 441.0 L349.8 440.9 L347.0 440.7 L344.3 440.6 L341.5 440.5 L338.8 440.3 L336.1 440.2 L333.3 440.0 L330.6 439.8 L327.9 439.7 L325.1 439.5 L322.4 439.3 L319.7 439.2 L316.9 439.0 L314.2 438.8 L311.5 438.6 L308.7 438.4 L306.0 438.2 L303.3 438.1 L300.5 437.9 L297.8 437.7 L295.1 437.5 L292.3 437.3 L289.6 437.1 L286.9 436.9 L284.2 436.7 L281.4 436.5 L278.7 436.2 L276.0 436.0 L273.3 435.8 L270.6 435.6 L267.8 435.4 L265.1 435.1 L262.4 434.8 L259.7 434.6 L257.1 434.2 L254.4 433.9 L251.7 433.5 L249.0 433.2 L246.4 432.7 L243.7 432.3 L241.1 431.8 L238.4 431.2 L235.8 430.6 L233.2 430.0 L230.6 429.3 L228.0 428.5 L225.4 427.7 L222.9 426.8 L220.4 425.9 L218.1 424.8 L215.8 423.6 L213.6 422.4 L211.5 420.9 L209.6 419.4 L207.8 417.7 L206.0 415.9 L204.3 413.9 L202.7 411.9 L201.2 409.7 L199.8 407.4 L198.4 405.1 L197.1 402.7 L195.8 400.3 L194.6 397.8 L193.5 395.3 L192.4 392.8 L191.3 390.3 L190.3 387.8 L189.3 385.3 L188.4 382.8 L187.5 380.2 L186.7 377.7 L185.9 375.1 L185.1 372.6 L184.4 370.0 L183.7 367.4 L183.0 364.8 L182.4 362.2 L181.8 359.6 L181.2 357.0 L180.6 354.4 L180.1 351.7 L179.6 349.1 L179.1 346.4 L178.7 343.8 L178.2 341.1 L177.8 338.4 L177.4 335.7 L177.1 333.0 L176.7 330.3 L176.4 327.6 L176.1 324.9 L175.8 322.2 L175.6 319.5 L175.4 316.8 L175.2 314.1 L175.0 311.4 L174.9 308.6 L174.7 305.9 L174.6 303.2 L174.6 300.4 L174.5 297.7 L174.5 295.0 L174.5 292.2 L174.6 289.5 L174.6 286.8 L174.7 284.1 L174.8 281.3 L175.0 278.6 L175.2 275.9 L175.4 273.2 L175.6 270.5 L175.8 267.7 L176.1 265.0 L176.4 262.3 L176.8 259.6 L177.2 256.9 L177.6 254.3 L178.0 251.6 L178.5 248.9 L179.0 246.2 L179.5 243.6 L180.0 240.9 L180.6 238.3 L181.2 235.6 L181.9 233.0 L182.6 230.4 L183.3 227.8 L184.0 225.2 L184.8 222.6 L185.6 220.0 L186.4 217.5 L187.3 214.9 L188.2 212.4 L189.2 209.9 L190.1 207.3 L191.1 204.8 L192.2 202.4 L193.2 199.9 L194.3 197.4 L195.5 195.0 L196.7 192.6 L197.9 190.1 L199.1 187.8 L200.4 185.4 L201.7 183.0 L203.0 180.7 L204.4 178.4 L205.8 176.1 L207.2 173.8 L208.7 171.5 L210.2 169.3 L211.7 167.0 L213.2 164.8 L214.8 162.7 L216.4 160.5 L218.1 158.4 L219.8 156.3 L221.5 154.2 L223.2 152.1 L225.0 150.1 L226.8 148.1 L228.6 146.1 L230.4 144.1 L232.3 142.2 L234.2 140.2 L236.2 138.3 L238.1 136.4 L240.1 134.6 L242.1 132.7 L244.1 130.9 L246.2 129.1 L248.2 127.3 L250.3 125.6 L252.4 123.8 L254.5 122.1 L256.6 120.4 L258.8 118.7 L260.9 117.0 L263.1 115.4 L265.3 113.8 L267.5 112.1 L269.7 110.5 L271.9 109.0 L274.2 107.4 L276.4 105.9 L278.7 104.4 L280.9 102.9 L283.2 101.4 L285.5 100.0 L287.8 98.6 L290.2 97.2 L292.5 95.9 L294.9 94.6 L297.2 93.3 L299.6 92.0 L302.0 90.8 L304.4 89.6 L306.8 88.5 L309.3 87.3 L311.7 86.2 L314.2 85.2 L316.7 84.2 L319.2 83.2 L321.7 82.2 L324.2 81.3 L326.8 80.5 L329.3 79.6 L331.9 78.8 L334.5 78.0 L337.1 77.3 L339.7 76.6 L342.3 75.9 L344.9 75.3 L347.6 74.6 L350.2 74.1 L352.9 73.5 L355.5 73.0 L358.2 72.5 L360.9 72.1 L363.6 71.6 L366.3 71.3 L369.0 70.9 L371.7 70.6 L374.4 70.3 L377.1 70.0 L379.8 69.7 L382.5 69.5 L385.2 69.3 L388.0 69.2 L390.7 69.1 L393.4 69.0 Z" fill="none" stroke="#24333c" stroke-width="1.25" stroke-linejoin="round" stroke-linecap="round" />
<rect x="390" y="71.4" width="18" height="3.9" rx="1.9" fill="#fff" stroke="#24333c" stroke-width="1.3"/>
<circle cx="396" cy="267.2" r="43.4" fill="#fff" stroke="#24333c" stroke-width="1.6"/>
<circle cx="376.3" cy="240.0" r="2.9" fill="#fff" stroke="#24333c" stroke-width="1.35"/>
<circle cx="415.5" cy="240.0" r="2.9" fill="#fff" stroke="#24333c" stroke-width="1.35"/>
<circle cx="364.3" cy="277.6" r="2.9" fill="#fff" stroke="#24333c" stroke-width="1.35"/>
<circle cx="427.6" cy="277.6" r="2.9" fill="#fff" stroke="#24333c" stroke-width="1.35"/>
<circle cx="395.8" cy="301.3" r="2.9" fill="#fff" stroke="#24333c" stroke-width="1.35"/>
<rect x="221.8" y="387.4" width="354" height="6.4" fill="#fff" stroke="#24333c" stroke-width="1.35" stroke-linejoin="round"/>
<rect x="251.8" y="297.3" width="4.8" height="88" fill="#fff" stroke="#24333c" stroke-width="1.35" stroke-linejoin="round"/>
<rect x="336.3" y="297.3" width="4.8" height="88" fill="#fff" stroke="#24333c" stroke-width="1.35" stroke-linejoin="round"/>
<rect x="456.9" y="297.3" width="4.8" height="88" fill="#fff" stroke="#24333c" stroke-width="1.35" stroke-linejoin="round"/>
<rect x="540.8" y="297.3" width="4.8" height="88" fill="#fff" stroke="#24333c" stroke-width="1.35" stroke-linejoin="round"/>
<path d="M223.6 297.3 L242.6 382.2 L554.9 382.2 L573.9 297.3" fill="none" stroke="#24333c" stroke-width="5.3" stroke-linejoin="round"/>
<path d="M240 382.2 L557.5 382.2" fill="none" stroke="#24333c" stroke-width="5.9"/>
<path d="M223.6 297.3 L242.6 382.2 L554.9 382.2 L573.9 297.3" fill="none" stroke="#fff" stroke-width="2.5" stroke-linejoin="round"/>
<path d="M243.5 382.2 L554 382.2" fill="none" stroke="#fff" stroke-width="3.1"/>
<path d="M222.6 297.6 L227.3 297.6 L229.8 308 L225.4 308.6 Z" fill="#fff" stroke="#24333c" stroke-width="1.35" stroke-linejoin="round"/>
<path d="M574.9 297.6 L570.2 297.6 L567.7 308 L572.1 308.6 Z" fill="#fff" stroke="#24333c" stroke-width="1.35" stroke-linejoin="round"/>
<circle cx="254.2" cy="385.4" r="1.5" fill="#fff" stroke="#24333c" stroke-width="1.35" stroke-linejoin="round"/>
<circle cx="338.7" cy="385.4" r="1.5" fill="#fff" stroke="#24333c" stroke-width="1.35" stroke-linejoin="round"/>
<circle cx="459.3" cy="385.4" r="1.5" fill="#fff" stroke="#24333c" stroke-width="1.35" stroke-linejoin="round"/>
<circle cx="543.2" cy="385.4" r="1.5" fill="#fff" stroke="#24333c" stroke-width="1.35" stroke-linejoin="round"/>
<rect x="559.6" y="380.8" width="8.4" height="4.9" fill="#fff" stroke="#24333c" stroke-width="1.35" stroke-linejoin="round"/>
<rect x="221.8" y="292" width="354" height="5.3" fill="#fff" stroke="#24333c" stroke-width="1.35" stroke-linejoin="round"/>
<circle cx="223.2" cy="294.8" r="1.9" fill="#fff" stroke="#24333c" stroke-width="1.35" stroke-linejoin="round"/>
<circle cx="574.2" cy="294.8" r="1.9" fill="#fff" stroke="#24333c" stroke-width="1.35" stroke-linejoin="round"/>
<path d="M399.4 74 L416.7 63 L563.5 63" stroke="#171717" stroke-width="2.05" fill="none"/>
<path d="M575.4 145.5 L639.5 145.5" stroke="#171717" stroke-width="2.05" fill="none"/>
<path d="M597.8 240.4 L680.6 240.4" stroke="#171717" stroke-width="2.05" fill="none"/>
<path d="M579.8 338.4 L678 338.4" stroke="#171717" stroke-width="2.05" fill="none"/>
<path d="M503 434.3 L646.9 434.3" stroke="#171717" stroke-width="2.05" fill="none"/>
<g font-family="'Liberation Serif', 'Noto Serif CJK SC', serif" font-weight="500" fill="#171717" stroke="#171717" stroke-width="0.42" stroke-linejoin="round" style="opacity:0.99">
<text transform="translate(565.6 68.6) scale(1.550 1)" font-size="14.6" letter-spacing="1.55">塑料卡槽</text>
<text transform="translate(639.6 150.5) scale(1.550 1)" font-size="14.6" letter-spacing="1.55">滚筒口</text>
<text transform="translate(682.0 246.2) scale(1.550 1)" font-size="14.6" letter-spacing="1.55">滚筒</text>
<text transform="translate(677.9 344.5) scale(1.550 1)" font-size="14.6" letter-spacing="1.55">烘干支架</text>
<text transform="translate(646.2 441.6) scale(1.550 1)" font-size="14.6" letter-spacing="1.55">过滤网</text>
</g>
</svg>
</body></html>
